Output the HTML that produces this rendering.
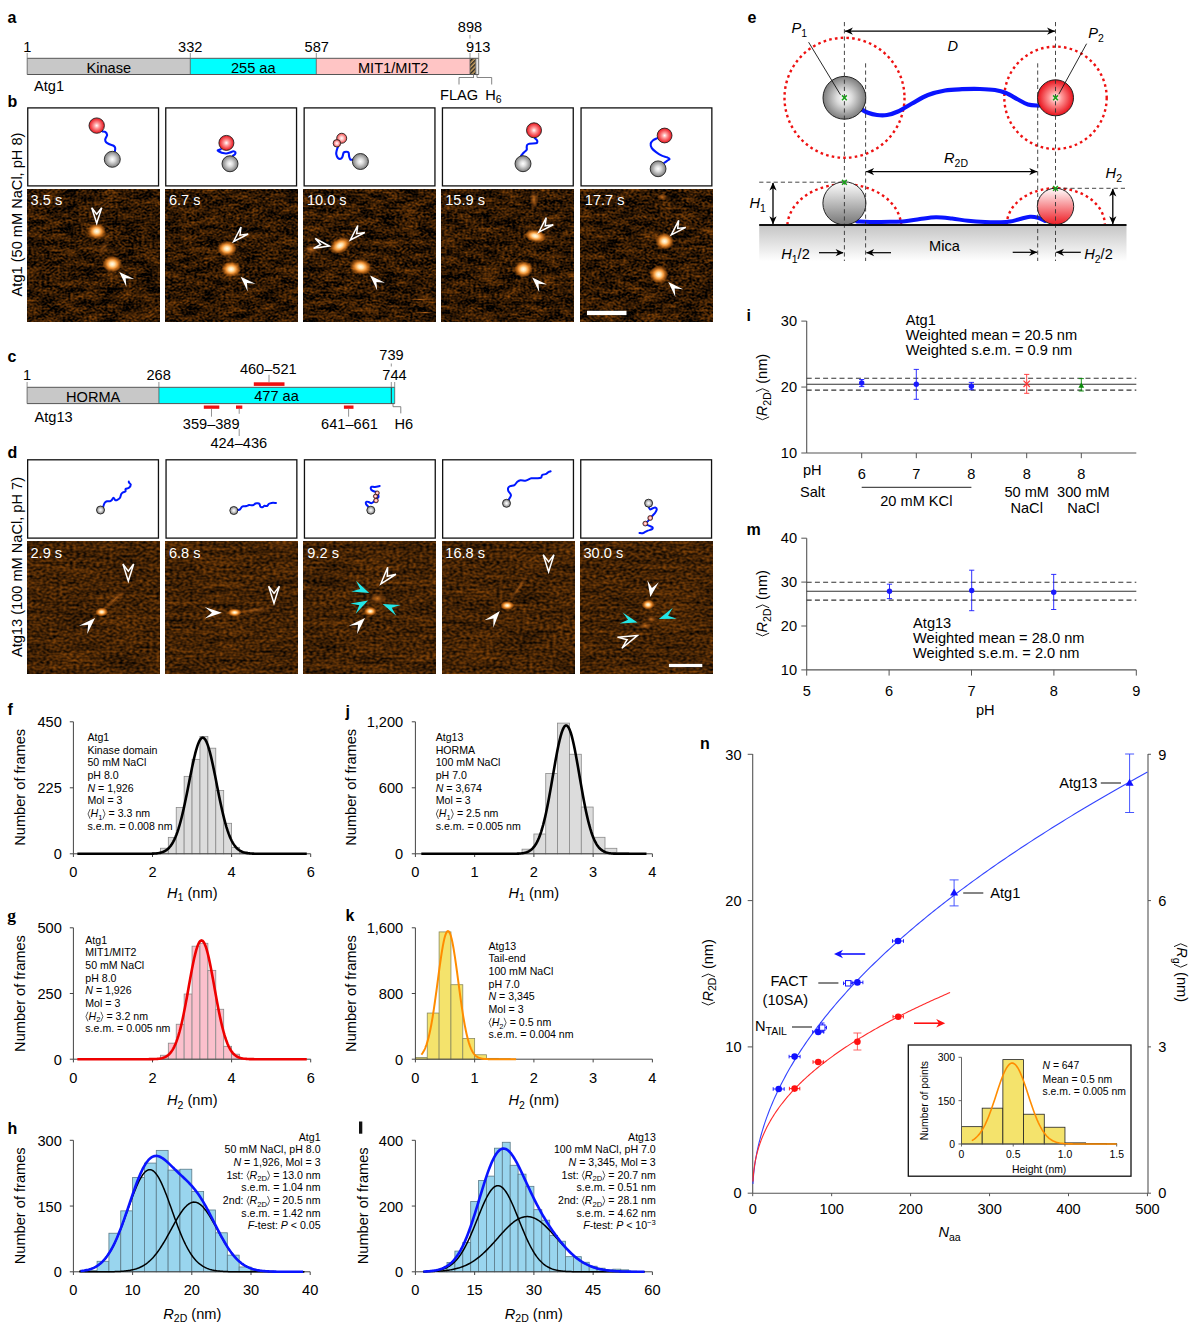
<!DOCTYPE html>
<html><head><meta charset="utf-8"><title>Figure</title>
<style>
html,body{margin:0;padding:0;background:#fff;}
svg{display:block;font-family:"Liberation Sans",sans-serif;}
svg text{white-space:pre;}
</style></head><body>
<svg xml:space="preserve" width="1200" height="1331" viewBox="0 0 1200 1331">
<rect width="1200" height="1331" fill="#fff"/>

<defs>
 <radialGradient id="gRed" cx="0.5" cy="0.5" r="0.5" fx="0.5" fy="0.5">
  <stop offset="0" stop-color="#ffffff"/><stop offset="0.35" stop-color="#ff9a9a"/><stop offset="1" stop-color="#e8101a"/>
 </radialGradient>
 <radialGradient id="gGrey" cx="0.5" cy="0.5" r="0.5" fx="0.5" fy="0.5">
  <stop offset="0" stop-color="#ffffff"/><stop offset="0.35" stop-color="#dddddd"/><stop offset="1" stop-color="#7c7c7c"/>
 </radialGradient>
 <radialGradient id="gPink" cx="0.5" cy="0.5" r="0.5">
  <stop offset="0" stop-color="#ffffff"/><stop offset="0.4" stop-color="#ffc0c0"/><stop offset="1" stop-color="#f04848"/>
 </radialGradient>
 <linearGradient id="lRed" x1="0" y1="0" x2="0" y2="1">
  <stop offset="0" stop-color="#ffffff"/><stop offset="1" stop-color="#ee1c24"/>
 </linearGradient>
 <linearGradient id="lGrey" x1="0" y1="0" x2="0" y2="1">
  <stop offset="0" stop-color="#ffffff"/><stop offset="1" stop-color="#777777"/>
 </linearGradient>
 <linearGradient id="mica" x1="0" y1="0" x2="0" y2="1">
  <stop offset="0" stop-color="#c4c4c4"/><stop offset="1" stop-color="#ffffff"/>
 </linearGradient>
 <pattern id="hatch" width="3" height="3" patternUnits="userSpaceOnUse" patternTransform="rotate(45)">
  <rect width="3" height="3" fill="#c8a060"/><rect width="1.4" height="3" fill="#222"/>
 </pattern>
 <radialGradient id="spot" cx="0.5" cy="0.5" r="0.5">
  <stop offset="0" stop-color="#fffaf0"/><stop offset="0.25" stop-color="#ffe0a8"/><stop offset="0.5" stop-color="#ffa040" stop-opacity="0.95"/><stop offset="0.78" stop-color="#e07818" stop-opacity="0.55"/><stop offset="1" stop-color="#c06010" stop-opacity="0"/>
 </radialGradient>
 <radialGradient id="faint" cx="0.5" cy="0.5" r="0.5">
  <stop offset="0" stop-color="#d87a20" stop-opacity="0.9"/><stop offset="1" stop-color="#a05010" stop-opacity="0"/>
 </radialGradient>
 <filter id="afmB0" x="0" y="0" width="1" height="1" color-interpolation-filters="sRGB">
  <feTurbulence type="fractalNoise" baseFrequency="0.38 0.5" numOctaves="1" seed="11" result="a"/>
  <feTurbulence type="fractalNoise" baseFrequency="0.05 0.15" numOctaves="2" seed="14" result="b"/>
  <feComposite in="a" in2="b" operator="arithmetic" k1="0" k2="0.6" k3="0.4" k4="0" result="n"/>
  <feColorMatrix in="n" type="matrix" values="1.3 0 0 0 -0.460  0.68 0 0 0 -0.243  0.07 0 0 0 -0.022  0 0 0 0 1"/>
 </filter>
 <filter id="afmB1" x="0" y="0" width="1" height="1" color-interpolation-filters="sRGB">
  <feTurbulence type="fractalNoise" baseFrequency="0.38 0.5" numOctaves="1" seed="18" result="a"/>
  <feTurbulence type="fractalNoise" baseFrequency="0.05 0.15" numOctaves="2" seed="21" result="b"/>
  <feComposite in="a" in2="b" operator="arithmetic" k1="0" k2="0.6" k3="0.4" k4="0" result="n"/>
  <feColorMatrix in="n" type="matrix" values="1.3 0 0 0 -0.460  0.68 0 0 0 -0.243  0.07 0 0 0 -0.022  0 0 0 0 1"/>
 </filter>
 <filter id="afmB2" x="0" y="0" width="1" height="1" color-interpolation-filters="sRGB">
  <feTurbulence type="fractalNoise" baseFrequency="0.38 0.5" numOctaves="1" seed="25" result="a"/>
  <feTurbulence type="fractalNoise" baseFrequency="0.05 0.15" numOctaves="2" seed="28" result="b"/>
  <feComposite in="a" in2="b" operator="arithmetic" k1="0" k2="0.6" k3="0.4" k4="0" result="n"/>
  <feColorMatrix in="n" type="matrix" values="1.3 0 0 0 -0.460  0.68 0 0 0 -0.243  0.07 0 0 0 -0.022  0 0 0 0 1"/>
 </filter>
 <filter id="afmB3" x="0" y="0" width="1" height="1" color-interpolation-filters="sRGB">
  <feTurbulence type="fractalNoise" baseFrequency="0.38 0.5" numOctaves="1" seed="32" result="a"/>
  <feTurbulence type="fractalNoise" baseFrequency="0.05 0.15" numOctaves="2" seed="35" result="b"/>
  <feComposite in="a" in2="b" operator="arithmetic" k1="0" k2="0.6" k3="0.4" k4="0" result="n"/>
  <feColorMatrix in="n" type="matrix" values="1.3 0 0 0 -0.460  0.68 0 0 0 -0.243  0.07 0 0 0 -0.022  0 0 0 0 1"/>
 </filter>
 <filter id="afmB4" x="0" y="0" width="1" height="1" color-interpolation-filters="sRGB">
  <feTurbulence type="fractalNoise" baseFrequency="0.38 0.5" numOctaves="1" seed="39" result="a"/>
  <feTurbulence type="fractalNoise" baseFrequency="0.05 0.15" numOctaves="2" seed="42" result="b"/>
  <feComposite in="a" in2="b" operator="arithmetic" k1="0" k2="0.6" k3="0.4" k4="0" result="n"/>
  <feColorMatrix in="n" type="matrix" values="1.3 0 0 0 -0.460  0.68 0 0 0 -0.243  0.07 0 0 0 -0.022  0 0 0 0 1"/>
 </filter>
 <filter id="afmD0" x="0" y="0" width="1" height="1" color-interpolation-filters="sRGB">
  <feTurbulence type="fractalNoise" baseFrequency="0.3 0.45" numOctaves="1" seed="51" result="a"/>
  <feTurbulence type="fractalNoise" baseFrequency="0.02 0.2" numOctaves="2" seed="54" result="b"/>
  <feComposite in="a" in2="b" operator="arithmetic" k1="0" k2="0.7" k3="0.3" k4="0" result="n"/>
  <feColorMatrix in="n" type="matrix" values="1.0 0 0 0 -0.235  0.52 0 0 0 -0.123  0.05 0 0 0 -0.007  0 0 0 0 1"/>
 </filter>
 <filter id="afmD1" x="0" y="0" width="1" height="1" color-interpolation-filters="sRGB">
  <feTurbulence type="fractalNoise" baseFrequency="0.3 0.45" numOctaves="1" seed="56" result="a"/>
  <feTurbulence type="fractalNoise" baseFrequency="0.02 0.2" numOctaves="2" seed="59" result="b"/>
  <feComposite in="a" in2="b" operator="arithmetic" k1="0" k2="0.7" k3="0.3" k4="0" result="n"/>
  <feColorMatrix in="n" type="matrix" values="1.0 0 0 0 -0.235  0.52 0 0 0 -0.123  0.05 0 0 0 -0.007  0 0 0 0 1"/>
 </filter>
 <filter id="afmD2" x="0" y="0" width="1" height="1" color-interpolation-filters="sRGB">
  <feTurbulence type="fractalNoise" baseFrequency="0.3 0.45" numOctaves="1" seed="61" result="a"/>
  <feTurbulence type="fractalNoise" baseFrequency="0.02 0.2" numOctaves="2" seed="64" result="b"/>
  <feComposite in="a" in2="b" operator="arithmetic" k1="0" k2="0.7" k3="0.3" k4="0" result="n"/>
  <feColorMatrix in="n" type="matrix" values="1.0 0 0 0 -0.235  0.52 0 0 0 -0.123  0.05 0 0 0 -0.007  0 0 0 0 1"/>
 </filter>
 <filter id="afmD3" x="0" y="0" width="1" height="1" color-interpolation-filters="sRGB">
  <feTurbulence type="fractalNoise" baseFrequency="0.3 0.45" numOctaves="1" seed="66" result="a"/>
  <feTurbulence type="fractalNoise" baseFrequency="0.02 0.2" numOctaves="2" seed="69" result="b"/>
  <feComposite in="a" in2="b" operator="arithmetic" k1="0" k2="0.7" k3="0.3" k4="0" result="n"/>
  <feColorMatrix in="n" type="matrix" values="1.0 0 0 0 -0.235  0.52 0 0 0 -0.123  0.05 0 0 0 -0.007  0 0 0 0 1"/>
 </filter>
 <filter id="afmD4" x="0" y="0" width="1" height="1" color-interpolation-filters="sRGB">
  <feTurbulence type="fractalNoise" baseFrequency="0.3 0.45" numOctaves="1" seed="71" result="a"/>
  <feTurbulence type="fractalNoise" baseFrequency="0.02 0.2" numOctaves="2" seed="74" result="b"/>
  <feComposite in="a" in2="b" operator="arithmetic" k1="0" k2="0.7" k3="0.3" k4="0" result="n"/>
  <feColorMatrix in="n" type="matrix" values="1.0 0 0 0 -0.235  0.52 0 0 0 -0.123  0.05 0 0 0 -0.007  0 0 0 0 1"/>
 </filter>
</defs>
<text x="7.5" y="22.5" font-size="16" font-weight="bold">a</text>
<rect x="27.20" y="58.30" width="163.10" height="16.20" fill="#c8c8c8" stroke="none" stroke-width="1" />
<rect x="190.30" y="58.30" width="126.00" height="16.20" fill="#00ffff" stroke="none" stroke-width="1" />
<rect x="316.30" y="58.30" width="153.70" height="16.20" fill="#ffc5c5" stroke="none" stroke-width="1" />
<rect x="470.00" y="58.30" width="5.80" height="16.20" fill="url(#hatch)" stroke="none" stroke-width="1" />
<rect x="475.80" y="58.30" width="2.90" height="16.20" fill="#e6e6e6" stroke="none" stroke-width="1" />
<line x1="27.20" y1="58.30" x2="478.70" y2="58.30" stroke="#555" stroke-width="1" />
<line x1="27.20" y1="74.50" x2="478.70" y2="74.50" stroke="#555" stroke-width="1" />
<line x1="27.20" y1="58.30" x2="27.20" y2="74.50" stroke="#555" stroke-width="0.8" />
<line x1="190.30" y1="58.30" x2="190.30" y2="74.50" stroke="#555" stroke-width="0.8" />
<line x1="316.30" y1="58.30" x2="316.30" y2="74.50" stroke="#555" stroke-width="0.8" />
<line x1="470.00" y1="58.30" x2="470.00" y2="74.50" stroke="#555" stroke-width="0.8" />
<line x1="475.80" y1="58.30" x2="475.80" y2="74.50" stroke="#555" stroke-width="0.8" />
<line x1="478.70" y1="58.30" x2="478.70" y2="74.50" stroke="#555" stroke-width="0.8" />
<line x1="27.20" y1="53.00" x2="27.20" y2="58.30" stroke="#777" stroke-width="0.8" />
<line x1="190.30" y1="53.00" x2="190.30" y2="58.30" stroke="#777" stroke-width="0.8" />
<line x1="316.30" y1="53.00" x2="316.30" y2="58.30" stroke="#777" stroke-width="0.8" />
<line x1="470.00" y1="53.00" x2="470.00" y2="58.30" stroke="#777" stroke-width="0.8" />
<line x1="478.70" y1="53.00" x2="478.70" y2="58.30" stroke="#777" stroke-width="0.8" />
<line x1="470.00" y1="35.00" x2="470.00" y2="38.50" stroke="#777" stroke-width="0.8" />
<text x="108.8" y="72.5" font-size="14.6" text-anchor="middle" >Kinase</text>
<text x="253.3" y="72.5" font-size="14.6" text-anchor="middle" >255 aa</text>
<text x="393.2" y="72.5" font-size="14.6" text-anchor="middle" >MIT1/MIT2</text>
<text x="27.2" y="51.7" font-size="14.6" text-anchor="middle" >1</text>
<text x="190.3" y="51.7" font-size="14.6" text-anchor="middle" >332</text>
<text x="316.8" y="51.7" font-size="14.6" text-anchor="middle" >587</text>
<text x="478.2" y="51.7" font-size="14.6" text-anchor="middle" >913</text>
<text x="470.0" y="31.7" font-size="14.6" text-anchor="middle" >898</text>
<text x="34.0" y="91.0" font-size="14.6" text-anchor="start" >Atg1</text>
<path d="M459,84.5 V77.5 H474 M473.5,77.5 V74.5" fill="none" stroke="#777" stroke-width="0.9" />
<path d="M477,74.5 V77.5 H491.7 V84.5" fill="none" stroke="#777" stroke-width="0.9" />
<text x="440.0" y="99.7" font-size="14.6" text-anchor="start" >FLAG</text>
<text x="485.3" y="99.7" font-size="14.6" text-anchor="start" >H<tspan font-size="10.5" dy="3.5">6</tspan></text>
<text x="7.5" y="107" font-size="16" font-weight="bold">b</text>
<text font-size="14.6" text-anchor="middle" transform="translate(21.6 214.5) rotate(-90)">Atg1 (50 mM NaCl, pH 8)</text>
<rect x="27.75" y="107.90" width="130.80" height="78.00" fill="#fff" stroke="#111" stroke-width="1.3" />
<rect x="27.10" y="189.80" width="132.10" height="131.40" filter="url(#afmB0)" fill="#000"/>
<rect x="165.75" y="107.90" width="130.80" height="78.00" fill="#fff" stroke="#111" stroke-width="1.3" />
<rect x="165.10" y="189.80" width="132.10" height="131.40" filter="url(#afmB1)" fill="#000"/>
<rect x="304.15" y="107.90" width="130.80" height="78.00" fill="#fff" stroke="#111" stroke-width="1.3" />
<rect x="303.50" y="189.80" width="132.10" height="131.40" filter="url(#afmB2)" fill="#000"/>
<rect x="442.45" y="107.90" width="130.80" height="78.00" fill="#fff" stroke="#111" stroke-width="1.3" />
<rect x="441.80" y="189.80" width="132.10" height="131.40" filter="url(#afmB3)" fill="#000"/>
<rect x="581.05" y="107.90" width="130.80" height="78.00" fill="#fff" stroke="#111" stroke-width="1.3" />
<rect x="580.40" y="189.80" width="132.10" height="131.40" filter="url(#afmB4)" fill="#000"/>
<path d="M102.40,131.50 C102.87,131.57 104.42,131.35 105.20,131.90 C105.98,132.45 106.95,133.90 107.10,134.80 C107.25,135.70 106.42,136.47 106.10,137.30 C105.78,138.13 105.20,138.97 105.20,139.80 C105.20,140.63 105.40,141.55 106.10,142.30 C106.80,143.05 108.10,143.68 109.40,144.30 C110.70,144.92 112.93,145.37 113.90,146.00 C114.87,146.63 115.05,147.13 115.20,148.10 C115.35,149.07 114.87,151.18 114.80,151.80" fill="none" stroke="#0018ff" stroke-width="2.1" stroke-linecap="round" stroke-linejoin="round"/>
<circle cx="96.70" cy="125.60" r="7.70" fill="url(#gRed)" stroke="#222" stroke-width="0.9"/>
<circle cx="112.30" cy="159.30" r="8.00" fill="url(#gGrey)" stroke="#222" stroke-width="0.9"/>
<path d="M220.80,149.30 C220.27,149.50 217.77,150.08 217.60,150.50 C217.43,150.92 218.92,151.37 219.80,151.80 C220.68,152.23 221.82,152.82 222.90,153.10 C223.98,153.38 225.12,153.60 226.30,153.50 C227.48,153.40 228.83,152.87 230.00,152.50 C231.17,152.13 232.40,151.33 233.30,151.30 C234.20,151.27 235.12,151.82 235.40,152.30 C235.68,152.78 235.42,153.62 235.00,154.20 C234.58,154.78 233.25,155.53 232.90,155.80" fill="none" stroke="#0018ff" stroke-width="2.1" stroke-linecap="round" stroke-linejoin="round"/>
<circle cx="226.40" cy="142.90" r="7.50" fill="url(#gRed)" stroke="#222" stroke-width="0.9"/>
<circle cx="230.00" cy="163.75" r="8.00" fill="url(#gGrey)" stroke="#222" stroke-width="0.9"/>
<path d="M337.90,147.10 C337.70,147.65 336.97,149.22 336.70,150.40 C336.43,151.58 336.05,152.95 336.25,154.20 C336.45,155.45 337.14,157.14 337.90,157.90 C338.66,158.66 340.03,158.95 340.80,158.75 C341.57,158.55 342.01,157.74 342.50,156.70 C342.99,155.66 343.12,153.33 343.75,152.50 C344.38,151.67 345.46,151.70 346.25,151.70 C347.04,151.70 348.01,151.67 348.50,152.50 C348.99,153.33 348.88,155.52 349.20,156.70 C349.52,157.88 349.80,159.12 350.40,159.60 C351.00,160.08 352.40,159.60 352.80,159.60" fill="none" stroke="#0018ff" stroke-width="2.1" stroke-linecap="round" stroke-linejoin="round"/>
<circle cx="341.70" cy="138.25" r="5.00" fill="url(#gPink)" stroke="#222" stroke-width="0.9"/>
<circle cx="336.90" cy="143.30" r="3.75" fill="url(#gPink)" stroke="#222" stroke-width="0.9"/>
<circle cx="360.40" cy="161.50" r="8.00" fill="url(#gGrey)" stroke="#222" stroke-width="0.9"/>
<path d="M534.80,138.10 C535.17,138.47 536.60,139.58 537.00,140.30 C537.40,141.02 537.42,141.90 537.20,142.40 C536.98,142.90 537.02,143.08 535.70,143.30 C534.38,143.52 530.73,143.42 529.30,143.70 C527.87,143.98 527.53,144.35 527.10,145.00 C526.67,145.65 526.77,146.82 526.70,147.60 C526.63,148.38 527.13,148.92 526.70,149.70 C526.27,150.48 525.03,151.30 524.10,152.30 C523.17,153.30 521.60,155.13 521.10,155.70" fill="none" stroke="#0018ff" stroke-width="2.1" stroke-linecap="round" stroke-linejoin="round"/>
<circle cx="534.00" cy="130.30" r="7.50" fill="url(#gRed)" stroke="#222" stroke-width="0.9"/>
<circle cx="523.00" cy="163.70" r="8.00" fill="url(#gGrey)" stroke="#222" stroke-width="0.9"/>
<path d="M657.40,138.10 C656.68,138.47 654.22,139.35 653.10,140.30 C651.98,141.25 650.92,142.50 650.70,143.80 C650.48,145.10 650.90,146.72 651.80,148.10 C652.70,149.48 654.43,150.85 656.10,152.10 C657.77,153.35 659.98,154.73 661.80,155.60 C663.62,156.47 665.70,156.73 667.00,157.30 C668.30,157.87 669.60,158.42 669.60,159.00 C669.60,159.58 667.93,160.13 667.00,160.80 C666.07,161.47 664.50,162.63 664.00,163.00" fill="none" stroke="#0018ff" stroke-width="2.1" stroke-linecap="round" stroke-linejoin="round"/>
<circle cx="664.60" cy="135.50" r="7.40" fill="url(#gRed)" stroke="#222" stroke-width="0.9"/>
<circle cx="658.10" cy="168.80" r="7.90" fill="url(#gGrey)" stroke="#222" stroke-width="0.9"/>
<ellipse cx="104.00" cy="247.00" rx="4" ry="10" fill="url(#faint)" opacity="0.5" transform="rotate(25 104.00 247.00)"/>
<ellipse cx="96.70" cy="231.30" rx="9.5" ry="8" fill="url(#spot)" opacity="1" transform="rotate(0 96.70 231.30)"/>
<ellipse cx="112.30" cy="264.10" rx="10" ry="8.5" fill="url(#spot)" opacity="1" transform="rotate(0 112.30 264.10)"/>
<path d="M96.70,223.20 L101.70,207.70 L96.70,214.21 L91.70,207.70 Z" fill="none" stroke="#ffffff" stroke-width="1.5" stroke-linejoin="miter"/>
<path d="M119.30,272.00 L126.37,286.85 L125.66,278.36 L134.15,279.07 Z" fill="#ffffff" stroke="none" stroke-width="0" />
<text x="30.6" y="205.4" font-size="14.6" fill="#fff">3.5 s</text>
<ellipse cx="229.00" cy="259.00" rx="3.5" ry="8" fill="url(#faint)" opacity="0.3" transform="rotate(10 229.00 259.00)"/>
<ellipse cx="227.00" cy="248.60" rx="10" ry="8" fill="url(#spot)" opacity="1" transform="rotate(0 227.00 248.60)"/>
<ellipse cx="231.20" cy="269.20" rx="10" ry="8" fill="url(#spot)" opacity="1" transform="rotate(0 231.20 269.20)"/>
<path d="M233.60,241.50 L248.10,234.08 L239.96,235.14 L241.02,227.00 Z" fill="none" stroke="#ffffff" stroke-width="1.5" stroke-linejoin="miter"/>
<path d="M240.60,276.70 L247.67,291.55 L246.96,283.06 L255.45,283.77 Z" fill="#ffffff" stroke="none" stroke-width="0" />
<text x="168.9" y="205.4" font-size="14.6" fill="#fff">6.7 s</text>
<ellipse cx="311.00" cy="249.50" rx="7.5" ry="5" fill="url(#faint)" opacity="1.0" transform="rotate(0 311.00 249.50)"/>
<ellipse cx="340.20" cy="245.50" rx="11.5" ry="7.5" fill="url(#spot)" opacity="1" transform="rotate(-30 340.20 245.50)"/>
<ellipse cx="360.70" cy="266.80" rx="11" ry="8" fill="url(#spot)" opacity="1" transform="rotate(10 360.70 266.80)"/>
<ellipse cx="420.00" cy="299.50" rx="14" ry="1.3" fill="url(#faint)" opacity="0.8" transform="rotate(0 420.00 299.50)"/>
<ellipse cx="425.00" cy="312.50" rx="10" ry="1.3" fill="url(#faint)" opacity="0.9" transform="rotate(0 425.00 312.50)"/>
<ellipse cx="392.00" cy="306.00" rx="8" ry="1.2" fill="url(#faint)" opacity="0.6" transform="rotate(0 392.00 306.00)"/>
<path d="M350.30,240.00 L364.80,232.58 L356.66,233.64 L357.72,225.50 Z" fill="none" stroke="#ffffff" stroke-width="1.5" stroke-linejoin="miter"/>
<path d="M329.20,246.00 L315.30,238.47 L320.63,244.49 L313.56,248.32 Z" fill="none" stroke="#ffffff" stroke-width="1.5" stroke-linejoin="miter"/>
<path d="M370.10,275.60 L377.17,290.45 L376.46,281.96 L384.95,282.67 Z" fill="#ffffff" stroke="none" stroke-width="0" />
<text x="306.9" y="205.4" font-size="14.6" fill="#fff">10.0 s</text>
<ellipse cx="534.00" cy="199.50" rx="4.5" ry="10" fill="url(#faint)" opacity="1.0" transform="rotate(0 534.00 199.50)"/>
<ellipse cx="535.20" cy="236.00" rx="11" ry="6.5" fill="url(#spot)" opacity="1" transform="rotate(12 535.20 236.00)"/>
<ellipse cx="523.50" cy="269.20" rx="9.5" ry="8.5" fill="url(#spot)" opacity="1" transform="rotate(0 523.50 269.20)"/>
<path d="M538.80,232.20 L553.30,224.78 L545.16,225.84 L546.22,217.70 Z" fill="none" stroke="#ffffff" stroke-width="1.5" stroke-linejoin="miter"/>
<path d="M532.20,277.40 L539.27,292.25 L538.56,283.76 L547.05,284.47 Z" fill="#ffffff" stroke="none" stroke-width="0" />
<text x="445.2" y="205.4" font-size="14.6" fill="#fff">15.9 s</text>
<ellipse cx="662.30" cy="197.00" rx="5" ry="3.6" fill="url(#faint)" opacity="1.0" transform="rotate(0 662.30 197.00)"/>
<ellipse cx="664.60" cy="241.20" rx="9.5" ry="8.5" fill="url(#spot)" opacity="1" transform="rotate(0 664.60 241.20)"/>
<ellipse cx="658.80" cy="274.50" rx="9.5" ry="9" fill="url(#spot)" opacity="1" transform="rotate(0 658.80 274.50)"/>
<path d="M671.30,234.80 L685.80,227.38 L677.66,228.44 L678.72,220.30 Z" fill="none" stroke="#ffffff" stroke-width="1.5" stroke-linejoin="miter"/>
<path d="M668.30,282.10 L675.37,296.95 L674.66,288.46 L683.15,289.17 Z" fill="#ffffff" stroke="none" stroke-width="0" />
<text x="584.8" y="205.4" font-size="14.6" fill="#fff">17.7 s</text>
<rect x="587.00" y="310.80" width="39.50" height="4.30" fill="#fff" stroke="none" stroke-width="1" />
<text x="7.5" y="361.5" font-size="16" font-weight="bold">c</text>
<rect x="27.10" y="387.30" width="131.80" height="16.30" fill="#c8c8c8" stroke="none" stroke-width="1" />
<rect x="158.90" y="387.30" width="235.80" height="16.30" fill="#00ffff" stroke="none" stroke-width="1" />
<line x1="27.10" y1="387.30" x2="394.70" y2="387.30" stroke="#555" stroke-width="1" />
<line x1="27.10" y1="403.60" x2="394.70" y2="403.60" stroke="#555" stroke-width="1" />
<line x1="27.10" y1="387.30" x2="27.10" y2="403.60" stroke="#555" stroke-width="0.8" />
<line x1="158.90" y1="387.30" x2="158.90" y2="403.60" stroke="#555" stroke-width="0.8" />
<line x1="394.70" y1="387.30" x2="394.70" y2="403.60" stroke="#555" stroke-width="0.8" />
<line x1="391.30" y1="387.30" x2="391.30" y2="403.60" stroke="#333" stroke-width="1" />
<line x1="27.10" y1="382.00" x2="27.10" y2="387.30" stroke="#777" stroke-width="0.8" />
<line x1="158.90" y1="382.00" x2="158.90" y2="387.30" stroke="#777" stroke-width="0.8" />
<line x1="391.30" y1="382.00" x2="391.30" y2="387.30" stroke="#777" stroke-width="0.8" />
<line x1="394.70" y1="382.00" x2="394.70" y2="387.30" stroke="#777" stroke-width="0.8" />
<line x1="391.30" y1="363.50" x2="391.30" y2="366.50" stroke="#777" stroke-width="0.8" />
<text x="93.2" y="401.6" font-size="14.6" text-anchor="middle" >HORMA</text>
<text x="276.5" y="401.2" font-size="14.6" text-anchor="middle" >477 aa</text>
<text x="27.1" y="380.3" font-size="14.6" text-anchor="middle" >1</text>
<text x="158.6" y="380.3" font-size="14.6" text-anchor="middle" >268</text>
<text x="268.3" y="374.1" font-size="14.6" text-anchor="middle" >460–521</text>
<text x="391.5" y="360.1" font-size="14.6" text-anchor="middle" >739</text>
<text x="394.5" y="380.3" font-size="14.6" text-anchor="middle" >744</text>
<text x="34.5" y="421.9" font-size="14.6" text-anchor="start" >Atg13</text>
<rect x="253.80" y="382.30" width="30.70" height="3.60" fill="#ee1111" stroke="none" stroke-width="1" />
<line x1="269.00" y1="374.80" x2="269.00" y2="382.30" stroke="#888" stroke-width="0.9" />
<rect x="203.80" y="405.50" width="15.50" height="3.30" fill="#ee1111" stroke="none" stroke-width="1" />
<rect x="236.00" y="405.50" width="6.30" height="3.30" fill="#ee1111" stroke="none" stroke-width="1" />
<rect x="343.90" y="405.50" width="9.60" height="3.30" fill="#ee1111" stroke="none" stroke-width="1" />
<line x1="211.50" y1="408.80" x2="211.50" y2="416.70" stroke="#888" stroke-width="0.9" />
<line x1="239.20" y1="408.80" x2="239.20" y2="413.80" stroke="#888" stroke-width="0.9" />
<line x1="239.20" y1="428.80" x2="239.20" y2="436.00" stroke="#888" stroke-width="0.9" />
<line x1="348.60" y1="408.80" x2="348.60" y2="416.70" stroke="#888" stroke-width="0.9" />
<path d="M393,403.6 V406.7 H400.8 V413.4" fill="none" stroke="#777" stroke-width="0.9" />
<text x="211.2" y="428.6" font-size="14.6" text-anchor="middle" >359–389</text>
<text x="238.8" y="448.3" font-size="14.6" text-anchor="middle" >424–436</text>
<text x="349.5" y="428.6" font-size="14.6" text-anchor="middle" >641–661</text>
<text x="403.8" y="428.6" font-size="14.6" text-anchor="middle" >H6</text>
<text x="7.5" y="457.5" font-size="16" font-weight="bold">d</text>
<text font-size="14.6" text-anchor="middle" transform="translate(21.6 567) rotate(-90)">Atg13 (100 mM NaCl, pH 7)</text>
<rect x="27.65" y="459.80" width="130.80" height="78.30" fill="#fff" stroke="#111" stroke-width="1.3" />
<rect x="27.00" y="541.90" width="132.10" height="131.30" filter="url(#afmD0)" fill="#000"/>
<rect x="166.05" y="459.80" width="130.80" height="78.30" fill="#fff" stroke="#111" stroke-width="1.3" />
<rect x="165.40" y="541.90" width="132.10" height="131.30" filter="url(#afmD1)" fill="#000"/>
<rect x="304.45" y="459.80" width="130.80" height="78.30" fill="#fff" stroke="#111" stroke-width="1.3" />
<rect x="303.80" y="541.90" width="132.10" height="131.30" filter="url(#afmD2)" fill="#000"/>
<rect x="442.65" y="459.80" width="130.80" height="78.30" fill="#fff" stroke="#111" stroke-width="1.3" />
<rect x="442.00" y="541.90" width="132.10" height="131.30" filter="url(#afmD3)" fill="#000"/>
<rect x="580.75" y="459.80" width="130.80" height="78.30" fill="#fff" stroke="#111" stroke-width="1.3" />
<rect x="580.10" y="541.90" width="132.10" height="131.30" filter="url(#afmD4)" fill="#000"/>
<path d="M103.20,506.80 C103.43,506.17 103.97,503.92 104.60,503.00 C105.23,502.08 106.10,501.58 107.00,501.30 C107.90,501.02 109.23,501.47 110.00,501.30 C110.77,501.13 111.02,500.88 111.60,500.30 C112.18,499.72 112.85,497.80 113.50,497.80 C114.15,497.80 114.75,500.02 115.50,500.30 C116.25,500.58 117.25,499.92 118.00,499.50 C118.75,499.08 119.45,498.72 120.00,497.80 C120.55,496.88 120.80,494.92 121.30,494.00 C121.80,493.08 122.30,492.73 123.00,492.30 C123.70,491.87 125.07,491.95 125.50,491.40 C125.93,490.85 125.02,489.60 125.60,489.00 C126.18,488.40 128.13,488.53 129.00,487.80 C129.87,487.07 130.80,485.47 130.80,484.60 C130.80,483.73 129.33,483.10 129.00,482.60 C128.67,482.10 128.83,481.77 128.80,481.60" fill="none" stroke="#0018ff" stroke-width="2.0" stroke-linecap="round" stroke-linejoin="round"/>
<circle cx="100.50" cy="510.00" r="4.00" fill="url(#gGrey)" stroke="#222" stroke-width="0.9"/>
<path d="M237.60,510.20 C238.00,510.07 239.27,509.97 240.00,509.40 C240.73,508.83 241.33,507.32 242.00,506.80 C242.67,506.28 243.25,506.43 244.00,506.30 C244.75,506.17 245.67,506.22 246.50,506.00 C247.33,505.78 248.17,505.12 249.00,505.00 C249.83,504.88 250.75,505.30 251.50,505.30 C252.25,505.30 252.83,505.30 253.50,505.00 C254.17,504.70 254.83,503.78 255.50,503.50 C256.17,503.22 256.83,503.22 257.50,503.30 C258.17,503.38 259.00,503.42 259.50,504.00 C260.00,504.58 259.92,506.30 260.50,506.80 C261.08,507.30 262.33,507.17 263.00,507.00 C263.67,506.83 263.83,505.97 264.50,505.80 C265.17,505.63 266.25,506.33 267.00,506.00 C267.75,505.67 268.25,504.32 269.00,503.80 C269.75,503.28 270.33,503.05 271.50,502.90 C272.67,502.75 275.25,502.90 276.00,502.90" fill="none" stroke="#0018ff" stroke-width="2.0" stroke-linecap="round" stroke-linejoin="round"/>
<circle cx="233.80" cy="510.50" r="4.00" fill="url(#gGrey)" stroke="#222" stroke-width="0.9"/>
<path d="M368.40,506.70 C368.00,506.25 366.35,504.82 366.00,504.00 C365.65,503.18 365.85,502.13 366.30,501.80 C366.75,501.47 367.87,501.77 368.70,502.00 C369.53,502.23 370.45,503.27 371.30,503.20 C372.15,503.13 372.93,502.30 373.80,501.60 C374.67,500.90 375.70,499.82 376.50,499.00 C377.30,498.18 378.43,497.62 378.60,496.70 C378.77,495.78 377.93,494.28 377.50,493.50 C377.07,492.72 376.87,492.47 376.00,492.00 C375.13,491.53 373.18,491.30 372.30,490.70 C371.42,490.10 370.80,489.07 370.70,488.40 C370.60,487.73 370.98,486.93 371.70,486.70 C372.42,486.47 373.67,487.12 375.00,487.00 C376.33,486.88 378.92,486.17 379.70,486.00" fill="none" stroke="#0018ff" stroke-width="2.0" stroke-linecap="round" stroke-linejoin="round"/>
<circle cx="377.20" cy="493.00" r="2.10" fill="url(#gPink)" stroke="#222" stroke-width="0.8"/>
<circle cx="375.50" cy="496.30" r="2.10" fill="url(#gPink)" stroke="#222" stroke-width="0.8"/>
<circle cx="376.00" cy="500.50" r="2.30" fill="url(#gPink)" stroke="#222" stroke-width="0.8"/>
<circle cx="370.80" cy="510.20" r="4.00" fill="url(#gGrey)" stroke="#222" stroke-width="0.9"/>
<path d="M508.60,499.80 C509.00,499.05 511.03,496.75 511.00,495.30 C510.97,493.85 508.87,492.33 508.40,491.10 C507.93,489.87 507.88,488.72 508.20,487.90 C508.52,487.08 509.25,486.67 510.30,486.20 C511.35,485.73 513.33,485.83 514.50,485.10 C515.67,484.37 516.30,482.62 517.30,481.80 C518.30,480.98 519.03,480.40 520.50,480.20 C521.97,480.00 524.30,480.92 526.10,480.60 C527.90,480.28 529.43,478.68 531.30,478.30 C533.17,477.92 535.67,478.42 537.30,478.30 C538.93,478.18 540.28,478.15 541.10,477.60 C541.92,477.05 541.35,475.62 542.20,475.00 C543.05,474.38 545.15,474.40 546.20,473.90 C547.25,473.40 547.77,472.43 548.50,472.00 C549.23,471.57 550.25,471.42 550.60,471.30" fill="none" stroke="#0018ff" stroke-width="2.0" stroke-linecap="round" stroke-linejoin="round"/>
<circle cx="506.50" cy="503.30" r="4.00" fill="url(#gGrey)" stroke="#222" stroke-width="0.9"/>
<path d="M648.90,507.40 C649.12,507.75 649.57,509.35 650.20,509.50 C650.83,509.65 651.87,508.62 652.70,508.30 C653.53,507.98 654.52,507.45 655.20,507.60 C655.88,507.75 656.80,508.35 656.80,509.20 C656.80,510.05 655.88,511.65 655.20,512.70 C654.52,513.75 653.53,514.62 652.70,515.50 C651.87,516.38 650.98,517.05 650.20,518.00 C649.42,518.95 648.82,520.27 648.00,521.20 C647.18,522.13 645.15,522.87 645.30,523.60 C645.45,524.33 647.72,525.00 648.90,525.60 C650.08,526.20 651.87,526.62 652.40,527.20 C652.93,527.78 652.88,528.52 652.10,529.10 C651.32,529.68 648.92,530.18 647.70,530.70 C646.48,531.22 645.65,531.78 644.80,532.20 C643.95,532.62 643.48,533.08 642.60,533.20 C641.72,533.32 640.02,532.95 639.50,532.90" fill="none" stroke="#0018ff" stroke-width="2.0" stroke-linecap="round" stroke-linejoin="round"/>
<circle cx="650.20" cy="518.00" r="2.40" fill="url(#gPink)" stroke="#222" stroke-width="0.8"/>
<circle cx="645.30" cy="523.60" r="2.40" fill="url(#gPink)" stroke="#222" stroke-width="0.8"/>
<circle cx="648.60" cy="503.20" r="4.00" fill="url(#gGrey)" stroke="#222" stroke-width="0.9"/>
<ellipse cx="115.00" cy="599.00" rx="17" ry="2.8" fill="url(#faint)" opacity="0.7" transform="rotate(-42 115.00 599.00)"/>
<ellipse cx="101.70" cy="612.00" rx="6.5" ry="4.5" fill="url(#spot)" opacity="1" transform="rotate(0 101.70 612.00)"/>
<path d="M128.30,581.00 L133.70,564.00 L128.30,571.14 L122.90,564.00 Z" fill="none" stroke="#ffffff" stroke-width="1.5" stroke-linejoin="miter"/>
<path d="M95.10,617.90 L78.98,625.82 L88.13,624.87 L87.18,634.02 Z" fill="#ffffff" stroke="none" stroke-width="0" />
<text x="30.5" y="557.7" font-size="14.6" fill="#fff">2.9 s</text>
<ellipse cx="255.00" cy="610.00" rx="21" ry="2.4" fill="url(#faint)" opacity="0.7" transform="rotate(-6 255.00 610.00)"/>
<ellipse cx="234.70" cy="612.50" rx="7" ry="4" fill="url(#spot)" opacity="1" transform="rotate(0 234.70 612.50)"/>
<path d="M274.00,603.20 L279.40,586.20 L274.00,593.34 L268.60,586.20 Z" fill="none" stroke="#ffffff" stroke-width="1.5" stroke-linejoin="miter"/>
<path d="M221.80,612.70 L204.80,606.90 L211.94,612.70 L204.80,618.50 Z" fill="#ffffff" stroke="none" stroke-width="0" />
<text x="168.9" y="557.7" font-size="14.6" fill="#fff">6.8 s</text>
<ellipse cx="377.30" cy="598.50" rx="9" ry="5.5" fill="url(#faint)" opacity="1.0" transform="rotate(0 377.30 598.50)"/>
<ellipse cx="377.00" cy="591.00" rx="5" ry="2" fill="url(#faint)" opacity="0.5" transform="rotate(0 377.00 591.00)"/>
<ellipse cx="370.30" cy="611.30" rx="6.5" ry="4.5" fill="url(#spot)" opacity="1" transform="rotate(0 370.30 611.30)"/>
<path d="M380.90,583.80 L395.96,574.25 L387.24,576.25 L387.69,567.31 Z" fill="none" stroke="#ffffff" stroke-width="1.5" stroke-linejoin="miter"/>
<path d="M365.00,617.90 L348.88,625.82 L358.03,624.87 L357.08,634.02 Z" fill="#ffffff" stroke="none" stroke-width="0" />
<path d="M369.20,593.00 L356.03,580.79 L360.19,588.99 L351.31,591.38 Z" fill="#22e6e6" stroke="none" stroke-width="0" />
<path d="M368.00,600.60 L350.27,603.46 L359.29,605.23 L355.71,613.70 Z" fill="#22e6e6" stroke="none" stroke-width="0" />
<path d="M382.60,604.00 L396.19,615.75 L391.74,607.69 L400.53,604.99 Z" fill="#22e6e6" stroke="none" stroke-width="0" />
<text x="307.3" y="557.7" font-size="14.6" fill="#fff">9.2 s</text>
<ellipse cx="518.00" cy="589.00" rx="19" ry="2.6" fill="url(#faint)" opacity="0.65" transform="rotate(-55 518.00 589.00)"/>
<ellipse cx="507.30" cy="605.50" rx="7" ry="4.5" fill="url(#spot)" opacity="1" transform="rotate(0 507.30 605.50)"/>
<path d="M548.60,571.70 L554.00,554.70 L548.60,561.84 L543.20,554.70 Z" fill="none" stroke="#ffffff" stroke-width="1.5" stroke-linejoin="miter"/>
<path d="M499.80,610.90 L484.43,620.19 L493.46,618.45 L493.32,627.65 Z" fill="#ffffff" stroke="none" stroke-width="0" />
<text x="445.3" y="557.7" font-size="14.6" fill="#fff">16.8 s</text>
<ellipse cx="645.30" cy="625.80" rx="7" ry="3.2" fill="url(#faint)" opacity="1.0" transform="rotate(0 645.30 625.80)"/>
<ellipse cx="651.20" cy="619.00" rx="6" ry="3.0" fill="url(#faint)" opacity="1.0" transform="rotate(0 651.20 619.00)"/>
<ellipse cx="648.10" cy="604.70" rx="6.5" ry="5" fill="url(#spot)" opacity="1" transform="rotate(0 648.10 604.70)"/>
<path d="M650.30,597.10 L658.79,582.35 L651.91,587.96 L647.37,580.34 Z" fill="#ffffff" stroke="none" stroke-width="0" />
<path d="M637.60,622.40 L622.68,612.40 L628.08,619.85 L619.68,623.60 Z" fill="#22e6e6" stroke="none" stroke-width="0" />
<path d="M658.80,619.00 L676.76,618.64 L668.07,615.63 L672.79,607.74 Z" fill="#22e6e6" stroke="none" stroke-width="0" />
<path d="M637.30,635.60 L617.44,637.15 L627.08,639.73 L621.93,648.28 Z" fill="none" stroke="#ffffff" stroke-width="1.5" stroke-linejoin="miter"/>
<text x="583.5" y="558.2" font-size="14.6" fill="#fff">30.0 s</text>
<rect x="668.90" y="663.90" width="33.40" height="3.20" fill="#fff" stroke="none" stroke-width="1" />
<text x="747.5" y="22.5" font-size="16" font-weight="bold">e</text>
<rect x="759.20" y="224.70" width="367.30" height="36.50" fill="url(#mica)" stroke="none" stroke-width="1" />
<circle cx="844.5" cy="97.8" r="60" fill="none" stroke="#ee1111" stroke-width="2.4" stroke-dasharray="2.6,3.2"/>
<circle cx="1055.5" cy="97.8" r="51.2" fill="none" stroke="#ee1111" stroke-width="2.4" stroke-dasharray="2.6,3.2"/>
<path d="M787.4,224.7 A57,43 0 0 1 901.2,224.7" fill="none" stroke="#ee1111" stroke-width="2.4" stroke-dasharray="2.6,3.2"/>
<path d="M1006.8,224.7 A49,36.5 0 0 1 1104.8,224.7" fill="none" stroke="#ee1111" stroke-width="2.4" stroke-dasharray="2.6,3.2"/>
<path d="M860.00,108.50 C861.33,109.22 865.17,111.72 868.00,112.80 C870.83,113.88 873.83,114.63 877.00,115.00 C880.17,115.37 883.50,115.58 887.00,115.00 C890.50,114.42 893.83,113.42 898.00,111.50 C902.17,109.58 907.00,106.25 912.00,103.50 C917.00,100.75 922.50,97.17 928.00,95.00 C933.50,92.83 939.33,91.47 945.00,90.50 C950.67,89.53 956.17,89.45 962.00,89.20 C967.83,88.95 974.50,88.87 980.00,89.00 C985.50,89.13 990.67,89.33 995.00,90.00 C999.33,90.67 1002.17,91.42 1006.00,93.00 C1009.83,94.58 1014.33,97.58 1018.00,99.50 C1021.67,101.42 1024.58,103.48 1028.00,104.50 C1031.42,105.52 1036.75,105.42 1038.50,105.60" fill="none" stroke="#0a14ff" stroke-width="4.2" stroke-linecap="round"/>
<path d="M857.00,221.50 C859.17,221.58 864.50,221.95 870.00,222.00 C875.50,222.05 884.17,221.93 890.00,221.80 C895.83,221.67 900.00,221.67 905.00,221.20 C910.00,220.73 914.83,219.67 920.00,219.00 C925.17,218.33 930.67,217.28 936.00,217.20 C941.33,217.12 946.67,217.90 952.00,218.50 C957.33,219.10 962.50,220.22 968.00,220.80 C973.50,221.38 979.67,221.77 985.00,222.00 C990.33,222.23 995.83,222.27 1000.00,222.20 C1004.17,222.13 1006.67,222.13 1010.00,221.60 C1013.33,221.07 1016.67,219.80 1020.00,219.00 C1023.33,218.20 1027.00,217.00 1030.00,216.80 C1033.00,216.60 1035.50,217.10 1038.00,217.80 C1040.50,218.50 1043.83,220.47 1045.00,221.00" fill="none" stroke="#0a14ff" stroke-width="4.0" stroke-linecap="round"/>
<circle cx="844.4" cy="97.8" r="21.4" fill="url(#gGrey)" stroke="#222" stroke-width="1"/>
<circle cx="1055.5" cy="97.8" r="18" fill="url(#gRed)" stroke="#222" stroke-width="1"/>
<circle cx="844.4" cy="203.3" r="21.5" fill="url(#lGrey)" stroke="#222" stroke-width="1"/>
<circle cx="1055.5" cy="206.4" r="18.2" fill="url(#lRed)" stroke="#222" stroke-width="1"/>
<line x1="844.40" y1="22.00" x2="844.40" y2="261.00" stroke="#333" stroke-width="0.9" stroke-dasharray="4.2,3"/>
<line x1="1055.50" y1="22.00" x2="1055.50" y2="261.00" stroke="#333" stroke-width="0.9" stroke-dasharray="4.2,3"/>
<line x1="865.60" y1="63.30" x2="865.60" y2="261.00" stroke="#333" stroke-width="0.9" stroke-dasharray="4.2,3"/>
<line x1="1037.70" y1="63.30" x2="1037.70" y2="261.00" stroke="#333" stroke-width="0.9" stroke-dasharray="4.2,3"/>
<line x1="759.20" y1="182.20" x2="844.00" y2="182.20" stroke="#333" stroke-width="0.9" stroke-dasharray="4.2,3"/>
<line x1="1056.00" y1="188.30" x2="1126.80" y2="188.30" stroke="#333" stroke-width="0.9" stroke-dasharray="4.2,3"/>
<line x1="759.20" y1="224.90" x2="1126.50" y2="224.90" stroke="#111" stroke-width="2" />
<line x1="842.00" y1="95.40" x2="846.80" y2="100.20" stroke="#18a018" stroke-width="1.5" />
<line x1="842.00" y1="100.20" x2="846.80" y2="95.40" stroke="#18a018" stroke-width="1.5" />
<line x1="1053.10" y1="95.40" x2="1057.90" y2="100.20" stroke="#18a018" stroke-width="1.5" />
<line x1="1053.10" y1="100.20" x2="1057.90" y2="95.40" stroke="#18a018" stroke-width="1.5" />
<line x1="842.00" y1="179.90" x2="846.80" y2="184.70" stroke="#18a018" stroke-width="1.5" />
<line x1="842.00" y1="184.70" x2="846.80" y2="179.90" stroke="#18a018" stroke-width="1.5" />
<line x1="1053.10" y1="186.00" x2="1057.90" y2="190.80" stroke="#18a018" stroke-width="1.5" />
<line x1="1053.10" y1="190.80" x2="1057.90" y2="186.00" stroke="#18a018" stroke-width="1.5" />
<line x1="808.60" y1="42.20" x2="840.50" y2="94.80" stroke="#111" stroke-width="0.9" />
<line x1="1086.60" y1="43.70" x2="1058.80" y2="94.20" stroke="#111" stroke-width="0.9" />
<line x1="844.90" y1="31.20" x2="1055.00" y2="31.20" stroke="#000" stroke-width="1.2" />
<path d="M844.90,31.20 L852.90,34.80 L850.50,31.20 L852.90,27.60 Z" fill="#000" stroke="none" stroke-width="0" />
<path d="M1055.00,31.20 L1047.00,27.60 L1049.40,31.20 L1047.00,34.80 Z" fill="#000" stroke="none" stroke-width="0" />
<line x1="866.10" y1="171.60" x2="1037.20" y2="171.60" stroke="#000" stroke-width="1.2" />
<path d="M866.10,171.60 L874.10,175.20 L871.70,171.60 L874.10,168.00 Z" fill="#000" stroke="none" stroke-width="0" />
<path d="M1037.20,171.60 L1029.20,168.00 L1031.60,171.60 L1029.20,175.20 Z" fill="#000" stroke="none" stroke-width="0" />
<line x1="773.00" y1="183.00" x2="773.00" y2="224.00" stroke="#000" stroke-width="1.3" />
<path d="M773.00,182.60 L769.40,190.60 L773.00,188.20 L776.60,190.60 Z" fill="#000" stroke="none" stroke-width="0" />
<path d="M773.00,224.20 L776.60,216.20 L773.00,218.60 L769.40,216.20 Z" fill="#000" stroke="none" stroke-width="0" />
<line x1="1112.80" y1="189.00" x2="1112.80" y2="224.00" stroke="#000" stroke-width="1.3" />
<path d="M1112.80,188.60 L1109.20,196.60 L1112.80,194.20 L1116.40,196.60 Z" fill="#000" stroke="none" stroke-width="0" />
<path d="M1112.80,224.20 L1116.40,216.20 L1112.80,218.60 L1109.20,216.20 Z" fill="#000" stroke="none" stroke-width="0" />
<line x1="819.00" y1="252.70" x2="843.00" y2="252.70" stroke="#000" stroke-width="1.2" />
<path d="M843.60,252.70 L835.60,249.10 L838.00,252.70 L835.60,256.30 Z" fill="#000" stroke="none" stroke-width="0" />
<line x1="866.40" y1="252.70" x2="891.00" y2="252.70" stroke="#000" stroke-width="1.2" />
<path d="M866.20,252.70 L874.20,256.30 L871.80,252.70 L874.20,249.10 Z" fill="#000" stroke="none" stroke-width="0" />
<line x1="1012.70" y1="252.30" x2="1037.00" y2="252.30" stroke="#000" stroke-width="1.2" />
<path d="M1037.20,252.30 L1029.20,248.70 L1031.60,252.30 L1029.20,255.90 Z" fill="#000" stroke="none" stroke-width="0" />
<line x1="1056.20" y1="252.30" x2="1080.80" y2="252.30" stroke="#000" stroke-width="1.2" />
<path d="M1056.00,252.30 L1064.00,255.90 L1061.60,252.30 L1064.00,248.70 Z" fill="#000" stroke="none" stroke-width="0" />
<text x="791.5" y="33.0" font-size="14.6" text-anchor="start" ><tspan font-style="italic">P</tspan><tspan font-size="10.5" dy="4">1</tspan></text>
<text x="1088.2" y="38.3" font-size="14.6" text-anchor="start" ><tspan font-style="italic">P</tspan><tspan font-size="10.5" dy="4">2</tspan></text>
<text x="947.5" y="51.0" font-size="14.6" text-anchor="start" font-style="italic">D</text>
<text x="944.0" y="163.0" font-size="14.6" text-anchor="start" ><tspan font-style="italic">R</tspan><tspan font-size="10.5" dy="4">2D</tspan></text>
<text x="749.5" y="208.0" font-size="14.6" text-anchor="start" ><tspan font-style="italic">H</tspan><tspan font-size="10.5" dy="4">1</tspan></text>
<text x="1105.6" y="178.3" font-size="14.6" text-anchor="start" ><tspan font-style="italic">H</tspan><tspan font-size="10.5" dy="4">2</tspan></text>
<text x="781.2" y="258.5" font-size="14.6" text-anchor="start" ><tspan font-style="italic">H</tspan><tspan font-size="10.5" dy="4">1</tspan><tspan dy="-4">/2</tspan></text>
<text x="1084.2" y="258.5" font-size="14.6" text-anchor="start" ><tspan font-style="italic">H</tspan><tspan font-size="10.5" dy="4">2</tspan><tspan dy="-4">/2</tspan></text>
<text x="944.5" y="251.2" font-size="14.6" text-anchor="middle" >Mica</text>
<text x="746.5" y="320.7" font-size="16" font-weight="bold">i</text>
<line x1="806.70" y1="321.10" x2="806.70" y2="453.00" stroke="#555" stroke-width="1.1" />
<line x1="806.70" y1="453.00" x2="1136.30" y2="453.00" stroke="#555" stroke-width="1.1" />
<line x1="801.30" y1="453.00" x2="806.70" y2="453.00" stroke="#555" stroke-width="1" />
<text x="797.0" y="458.2" font-size="14.6" text-anchor="end" >10</text>
<line x1="801.30" y1="387.05" x2="806.70" y2="387.05" stroke="#555" stroke-width="1" />
<text x="797.0" y="392.2" font-size="14.6" text-anchor="end" >20</text>
<line x1="801.30" y1="321.10" x2="806.70" y2="321.10" stroke="#555" stroke-width="1" />
<text x="797.0" y="326.3" font-size="14.6" text-anchor="end" >30</text>
<line x1="861.70" y1="453.00" x2="861.70" y2="458.20" stroke="#555" stroke-width="1" />
<line x1="916.30" y1="453.00" x2="916.30" y2="458.20" stroke="#555" stroke-width="1" />
<line x1="971.40" y1="453.00" x2="971.40" y2="458.20" stroke="#555" stroke-width="1" />
<line x1="1026.70" y1="453.00" x2="1026.70" y2="458.20" stroke="#555" stroke-width="1" />
<line x1="1081.30" y1="453.00" x2="1081.30" y2="458.20" stroke="#555" stroke-width="1" />
<line x1="806.70" y1="384.30" x2="1136.30" y2="384.30" stroke="#333" stroke-width="1.1" />
<line x1="806.70" y1="378.20" x2="1136.30" y2="378.20" stroke="#333" stroke-width="1.1" stroke-dasharray="5,3.2"/>
<line x1="806.70" y1="390.10" x2="1136.30" y2="390.10" stroke="#333" stroke-width="1.1" stroke-dasharray="5,3.2"/>
<line x1="861.70" y1="379.50" x2="861.70" y2="386.60" stroke="#1a1aff" stroke-width="0.9" />
<line x1="859.10" y1="379.50" x2="864.30" y2="379.50" stroke="#1a1aff" stroke-width="0.9" />
<line x1="859.10" y1="386.60" x2="864.30" y2="386.60" stroke="#1a1aff" stroke-width="0.9" />
<circle cx="861.7" cy="383.0" r="2.7" fill="#1a1aff"/>
<line x1="916.30" y1="369.40" x2="916.30" y2="399.30" stroke="#1a1aff" stroke-width="0.9" />
<line x1="913.70" y1="369.40" x2="918.90" y2="369.40" stroke="#1a1aff" stroke-width="0.9" />
<line x1="913.70" y1="399.30" x2="918.90" y2="399.30" stroke="#1a1aff" stroke-width="0.9" />
<circle cx="916.3" cy="384.3" r="2.7" fill="#1a1aff"/>
<line x1="971.40" y1="382.40" x2="971.40" y2="389.70" stroke="#1a1aff" stroke-width="0.9" />
<line x1="968.80" y1="382.40" x2="974.00" y2="382.40" stroke="#1a1aff" stroke-width="0.9" />
<line x1="968.80" y1="389.70" x2="974.00" y2="389.70" stroke="#1a1aff" stroke-width="0.9" />
<circle cx="971.4" cy="386.3" r="2.7" fill="#1a1aff"/>
<line x1="1026.70" y1="374.40" x2="1026.70" y2="393.30" stroke="#ff3030" stroke-width="0.9" />
<line x1="1024.10" y1="374.40" x2="1029.30" y2="374.40" stroke="#ff3030" stroke-width="0.9" />
<line x1="1024.10" y1="393.30" x2="1029.30" y2="393.30" stroke="#ff3030" stroke-width="0.9" />
<line x1="1023.50" y1="380.60" x2="1029.90" y2="387.00" stroke="#ff3030" stroke-width="1.1" />
<line x1="1023.50" y1="387.00" x2="1029.90" y2="380.60" stroke="#ff3030" stroke-width="1.1" />
<line x1="1081.30" y1="378.60" x2="1081.30" y2="391.00" stroke="#0a8a0a" stroke-width="0.9" />
<line x1="1078.70" y1="378.60" x2="1083.90" y2="378.60" stroke="#0a8a0a" stroke-width="0.9" />
<line x1="1078.70" y1="391.00" x2="1083.90" y2="391.00" stroke="#0a8a0a" stroke-width="0.9" />
<path d="M1081.3,382.5 L1084.2,387.8 L1078.4,387.8 Z" fill="#0a8a0a"/>
<text x="802.9" y="474.8" font-size="14.6" text-anchor="start" >pH</text>
<text x="861.7" y="478.6" font-size="14.6" text-anchor="middle" >6</text>
<text x="916.3" y="478.6" font-size="14.6" text-anchor="middle" >7</text>
<text x="971.4" y="478.6" font-size="14.6" text-anchor="middle" >8</text>
<text x="1026.7" y="478.6" font-size="14.6" text-anchor="middle" >8</text>
<text x="1081.3" y="478.6" font-size="14.6" text-anchor="middle" >8</text>
<text x="800.0" y="496.5" font-size="14.6" text-anchor="start" >Salt</text>
<line x1="861.70" y1="487.30" x2="971.40" y2="487.30" stroke="#222" stroke-width="1" />
<text x="916.3" y="505.5" font-size="14.6" text-anchor="middle" >20 mM KCl</text>
<text x="1026.7" y="497.4" font-size="14.6" text-anchor="middle" >50 mM</text>
<text x="1026.7" y="513.3" font-size="14.6" text-anchor="middle" >NaCl</text>
<text x="1083.4" y="497.4" font-size="14.6" text-anchor="middle" >300 mM</text>
<text x="1083.4" y="513.3" font-size="14.6" text-anchor="middle" >NaCl</text>
<text x="905.8" y="324.9" font-size="14.6" text-anchor="start" >Atg1</text>
<text x="905.8" y="339.9" font-size="14.6" text-anchor="start" >Weighted mean = 20.5 nm</text>
<text x="905.8" y="354.6" font-size="14.6" text-anchor="start" >Weighted s.e.m. = 0.9 nm</text>
<g transform="translate(766.70 387.20) rotate(-90) translate(-33.40 0)"><path d="M3.72,-10.80 L0.88,-4.16 L3.72,2.48" fill="none" stroke="#111" stroke-width="0.95"/><text x="4.38" y="0.00" font-size="14.6" font-style="italic">R</text><text x="14.92" y="3.94" font-size="10.51">2D</text><path d="M29.02,-10.80 L31.87,-4.16 L29.02,2.48" fill="none" stroke="#111" stroke-width="0.95"/><text x="32.74" y="0.00" font-size="14.6"> (nm)</text></g>
<text x="746.5" y="535.0" font-size="16" font-weight="bold">m</text>
<line x1="806.70" y1="538.20" x2="806.70" y2="669.90" stroke="#555" stroke-width="1.1" />
<line x1="806.70" y1="669.90" x2="1136.30" y2="669.90" stroke="#555" stroke-width="1.1" />
<line x1="801.30" y1="669.90" x2="806.70" y2="669.90" stroke="#555" stroke-width="1" />
<text x="797.0" y="675.1" font-size="14.6" text-anchor="end" >10</text>
<line x1="801.30" y1="626.00" x2="806.70" y2="626.00" stroke="#555" stroke-width="1" />
<text x="797.0" y="631.2" font-size="14.6" text-anchor="end" >20</text>
<line x1="801.30" y1="582.10" x2="806.70" y2="582.10" stroke="#555" stroke-width="1" />
<text x="797.0" y="587.3" font-size="14.6" text-anchor="end" >30</text>
<line x1="801.30" y1="538.20" x2="806.70" y2="538.20" stroke="#555" stroke-width="1" />
<text x="797.0" y="543.4" font-size="14.6" text-anchor="end" >40</text>
<line x1="806.70" y1="669.90" x2="806.70" y2="675.60" stroke="#555" stroke-width="1" />
<text x="806.7" y="696.0" font-size="14.6" text-anchor="middle" >5</text>
<line x1="889.10" y1="669.90" x2="889.10" y2="675.60" stroke="#555" stroke-width="1" />
<text x="889.1" y="696.0" font-size="14.6" text-anchor="middle" >6</text>
<line x1="971.50" y1="669.90" x2="971.50" y2="675.60" stroke="#555" stroke-width="1" />
<text x="971.5" y="696.0" font-size="14.6" text-anchor="middle" >7</text>
<line x1="1053.90" y1="669.90" x2="1053.90" y2="675.60" stroke="#555" stroke-width="1" />
<text x="1053.9" y="696.0" font-size="14.6" text-anchor="middle" >8</text>
<line x1="1136.30" y1="669.90" x2="1136.30" y2="675.60" stroke="#555" stroke-width="1" />
<text x="1136.3" y="696.0" font-size="14.6" text-anchor="middle" >9</text>
<text x="985.3" y="714.6" font-size="14.6" text-anchor="middle" >pH</text>
<line x1="806.70" y1="591.30" x2="1136.30" y2="591.30" stroke="#333" stroke-width="1.1" />
<line x1="806.70" y1="582.30" x2="1136.30" y2="582.30" stroke="#333" stroke-width="1.1" stroke-dasharray="5,3.2"/>
<line x1="806.70" y1="600.10" x2="1136.30" y2="600.10" stroke="#333" stroke-width="1.1" stroke-dasharray="5,3.2"/>
<line x1="889.50" y1="584.20" x2="889.50" y2="598.60" stroke="#1a1aff" stroke-width="0.9" />
<line x1="886.90" y1="584.20" x2="892.10" y2="584.20" stroke="#1a1aff" stroke-width="0.9" />
<line x1="886.90" y1="598.60" x2="892.10" y2="598.60" stroke="#1a1aff" stroke-width="0.9" />
<circle cx="889.5" cy="591.3" r="2.7" fill="#1a1aff"/>
<line x1="971.70" y1="570.20" x2="971.70" y2="610.70" stroke="#1a1aff" stroke-width="0.9" />
<line x1="969.10" y1="570.20" x2="974.30" y2="570.20" stroke="#1a1aff" stroke-width="0.9" />
<line x1="969.10" y1="610.70" x2="974.30" y2="610.70" stroke="#1a1aff" stroke-width="0.9" />
<circle cx="971.7" cy="590.5" r="2.7" fill="#1a1aff"/>
<line x1="1053.70" y1="574.40" x2="1053.70" y2="609.50" stroke="#1a1aff" stroke-width="0.9" />
<line x1="1051.10" y1="574.40" x2="1056.30" y2="574.40" stroke="#1a1aff" stroke-width="0.9" />
<line x1="1051.10" y1="609.50" x2="1056.30" y2="609.50" stroke="#1a1aff" stroke-width="0.9" />
<circle cx="1053.7" cy="592.3" r="2.7" fill="#1a1aff"/>
<text x="913.1" y="628.3" font-size="14.6" text-anchor="start" >Atg13</text>
<text x="913.1" y="643.3" font-size="14.6" text-anchor="start" >Weighted mean = 28.0 nm</text>
<text x="913.1" y="658.0" font-size="14.6" text-anchor="start" >Weighted s.e.m. = 2.0 nm</text>
<g transform="translate(766.70 603.40) rotate(-90) translate(-33.40 0)"><path d="M3.72,-10.80 L0.88,-4.16 L3.72,2.48" fill="none" stroke="#111" stroke-width="0.95"/><text x="4.38" y="0.00" font-size="14.6" font-style="italic">R</text><text x="14.92" y="3.94" font-size="10.51">2D</text><path d="M29.02,-10.80 L31.87,-4.16 L29.02,2.48" fill="none" stroke="#111" stroke-width="0.95"/><text x="32.74" y="0.00" font-size="14.6"> (nm)</text></g>
<text x="700.0" y="748.5" font-size="16" font-weight="bold">n</text>
<line x1="752.70" y1="754.00" x2="752.70" y2="1193.20" stroke="#555" stroke-width="1.1" />
<line x1="1148.00" y1="754.00" x2="1148.00" y2="1193.20" stroke="#555" stroke-width="1.1" />
<line x1="752.70" y1="1193.20" x2="1148.00" y2="1193.20" stroke="#555" stroke-width="1.1" />
<line x1="747.70" y1="1193.20" x2="752.70" y2="1193.20" stroke="#555" stroke-width="1" />
<text x="741.6" y="1198.4" font-size="14.6" text-anchor="end" >0</text>
<line x1="747.70" y1="1046.90" x2="752.70" y2="1046.90" stroke="#555" stroke-width="1" />
<text x="741.6" y="1052.1" font-size="14.6" text-anchor="end" >10</text>
<line x1="747.70" y1="900.60" x2="752.70" y2="900.60" stroke="#555" stroke-width="1" />
<text x="741.6" y="905.8" font-size="14.6" text-anchor="end" >20</text>
<line x1="747.70" y1="754.30" x2="752.70" y2="754.30" stroke="#555" stroke-width="1" />
<text x="741.6" y="759.5" font-size="14.6" text-anchor="end" >30</text>
<line x1="1148.00" y1="1193.20" x2="1151.00" y2="1193.20" stroke="#555" stroke-width="1" />
<text x="1158.3" y="1198.4" font-size="14.6" text-anchor="start" >0</text>
<line x1="1148.00" y1="1046.89" x2="1151.00" y2="1046.89" stroke="#555" stroke-width="1" />
<text x="1158.3" y="1052.1" font-size="14.6" text-anchor="start" >3</text>
<line x1="1148.00" y1="900.58" x2="1151.00" y2="900.58" stroke="#555" stroke-width="1" />
<text x="1158.3" y="905.8" font-size="14.6" text-anchor="start" >6</text>
<line x1="1148.00" y1="754.27" x2="1151.00" y2="754.27" stroke="#555" stroke-width="1" />
<text x="1158.3" y="759.5" font-size="14.6" text-anchor="start" >9</text>
<line x1="752.70" y1="1193.20" x2="752.70" y2="1196.20" stroke="#555" stroke-width="1" />
<text x="752.7" y="1214.2" font-size="14.6" text-anchor="middle" >0</text>
<line x1="831.65" y1="1193.20" x2="831.65" y2="1196.20" stroke="#555" stroke-width="1" />
<text x="831.7" y="1214.2" font-size="14.6" text-anchor="middle" >100</text>
<line x1="910.60" y1="1193.20" x2="910.60" y2="1196.20" stroke="#555" stroke-width="1" />
<text x="910.6" y="1214.2" font-size="14.6" text-anchor="middle" >200</text>
<line x1="989.55" y1="1193.20" x2="989.55" y2="1196.20" stroke="#555" stroke-width="1" />
<text x="989.6" y="1214.2" font-size="14.6" text-anchor="middle" >300</text>
<line x1="1068.50" y1="1193.20" x2="1068.50" y2="1196.20" stroke="#555" stroke-width="1" />
<text x="1068.5" y="1214.2" font-size="14.6" text-anchor="middle" >400</text>
<line x1="1147.45" y1="1193.20" x2="1147.45" y2="1196.20" stroke="#555" stroke-width="1" />
<text x="1147.5" y="1214.2" font-size="14.6" text-anchor="middle" >500</text>
<g transform="translate(938.50 1237.00)"><text x="0.00" y="0.00" font-size="14.6" font-style="italic">N</text><text x="10.54" y="3.94" font-size="10.51">aa</text></g>
<g transform="translate(712.50 972.50) rotate(-90) translate(-33.40 0)"><path d="M3.72,-10.80 L0.88,-4.16 L3.72,2.48" fill="none" stroke="#111" stroke-width="0.95"/><text x="4.38" y="0.00" font-size="14.6" font-style="italic">R</text><text x="14.92" y="3.94" font-size="10.51">2D</text><path d="M29.02,-10.80 L31.87,-4.16 L29.02,2.48" fill="none" stroke="#111" stroke-width="0.95"/><text x="32.74" y="0.00" font-size="14.6"> (nm)</text></g>
<g transform="translate(1176.50 972.50) rotate(90) translate(-29.61 0)"><path d="M3.72,-10.80 L0.88,-4.16 L3.72,2.48" fill="none" stroke="#111" stroke-width="0.95"/><text x="4.38" y="0.00" font-size="14.6" font-style="italic">R</text><text x="14.92" y="3.94" font-size="10.51">g</text><path d="M21.43,-10.80 L24.27,-4.16 L21.43,2.48" fill="none" stroke="#111" stroke-width="0.95"/><text x="25.15" y="0.00" font-size="14.6"> (nm)</text></g>
<path d="M752.94,1183.90 L753.02,1182.37 L753.19,1179.75 L753.41,1176.82 L753.69,1173.79 L754.02,1170.76 L754.38,1167.75 L754.78,1164.77 L755.22,1161.82 L755.70,1158.92 L756.21,1156.05 L756.74,1153.22 L757.31,1150.43 L757.91,1147.66 L758.54,1144.93 L759.19,1142.22 L759.87,1139.54 L760.58,1136.88 L761.31,1134.25 L762.07,1131.65 L762.85,1129.06 L763.65,1126.49 L764.48,1123.95 L765.33,1121.42 L766.20,1118.91 L767.10,1116.42 L768.02,1113.94 L768.95,1111.48 L769.91,1109.04 L770.89,1106.60 L771.90,1104.19 L772.92,1101.78 L773.96,1099.39 L775.02,1097.02 L776.10,1094.65 L777.20,1092.30 L778.32,1089.95 L779.45,1087.62 L780.61,1085.30 L781.78,1082.99 L782.98,1080.69 L784.19,1078.40 L785.42,1076.12 L786.66,1073.85 L787.93,1071.59 L789.21,1069.33 L790.51,1067.09 L791.82,1064.85 L793.15,1062.63 L794.50,1060.41 L795.87,1058.19 L797.25,1055.99 L798.65,1053.79 L800.06,1051.60 L801.49,1049.42 L802.94,1047.24 L804.40,1045.07 L805.88,1042.91 L807.37,1040.76 L808.88,1038.61 L810.41,1036.47 L811.95,1034.33 L813.50,1032.20 L815.08,1030.07 L816.66,1027.96 L818.26,1025.84 L819.88,1023.74 L821.51,1021.63 L823.15,1019.54 L824.81,1017.45 L826.48,1015.36 L828.17,1013.28 L829.88,1011.21 L831.59,1009.14 L833.32,1007.07 L835.07,1005.01 L836.83,1002.96 L838.60,1000.91 L840.39,998.86 L842.19,996.82 L844.00,994.78 L845.83,992.75 L847.67,990.72 L849.53,988.70 L851.40,986.68 L853.28,984.67 L855.17,982.66 L857.08,980.65 L859.01,978.65 L860.94,976.65 L862.89,974.65 L864.85,972.66 L866.82,970.68 L868.81,968.69 L870.81,966.71 L872.82,964.74 L874.85,962.76 L876.89,960.80 L878.94,958.83 L881.00,956.87 L883.08,954.91 L885.17,952.96 L887.27,951.01 L889.38,949.06 L891.51,947.11 L893.64,945.17 L895.79,943.24 L897.96,941.30 L900.13,939.37 L902.32,937.44 L904.52,935.52 L906.73,933.60 L908.95,931.68 L911.19,929.76 L913.43,927.85 L915.69,925.94 L917.96,924.03 L920.24,922.13 L922.54,920.22 L924.84,918.33 L927.16,916.43 L929.49,914.54 L931.83,912.65 L934.18,910.76 L936.54,908.88 L938.92,906.99 L941.30,905.11 L943.70,903.24 L946.11,901.36 L948.53,899.49 L950.96,897.62 L953.41,895.76 L955.86,893.89 L958.33,892.03 L960.80,890.17 L963.29,888.32 L965.79,886.46 L968.30,884.61 L970.82,882.76 L973.35,880.92 L975.89,879.07 L978.45,877.23 L981.01,875.39 L983.59,873.55 L986.17,871.72 L988.77,869.88 L991.38,868.05 L993.99,866.22 L996.62,864.40 L999.26,862.57 L1001.91,860.75 L1004.58,858.93 L1007.25,857.11 L1009.93,855.30 L1012.62,853.48 L1015.32,851.67 L1018.04,849.86 L1020.76,848.06 L1023.50,846.25 L1026.24,844.45 L1029.00,842.65 L1031.76,840.85 L1034.54,839.05 L1037.33,837.25 L1040.12,835.46 L1042.93,833.67 L1045.75,831.88 L1048.57,830.09 L1051.41,828.31 L1054.26,826.52 L1057.12,824.74 L1059.99,822.96 L1062.86,821.18 L1065.75,819.40 L1068.65,817.63 L1071.56,815.86 L1074.48,814.09 L1077.40,812.32 L1080.34,810.55 L1083.29,808.78 L1086.25,807.02 L1089.22,805.26 L1092.19,803.50 L1095.18,801.74 L1098.18,799.98 L1101.18,798.22 L1104.20,796.47 L1107.23,794.72 L1110.26,792.97 L1113.31,791.22 L1116.37,789.47 L1119.43,787.73 L1122.51,785.98 L1125.59,784.24 L1128.68,782.50 L1131.79,780.76 L1134.90,779.02 L1138.02,777.29 L1141.16,775.55 L1144.30,773.82 L1147.45,772.09" fill="none" stroke="#3344ff" stroke-width="1.1" />
<path d="M752.94,1181.50 L753.00,1180.35 L753.11,1178.38 L753.28,1176.16 L753.48,1173.89 L753.71,1171.63 L753.97,1169.43 L754.26,1167.28 L754.57,1165.18 L754.91,1163.14 L755.27,1161.15 L755.66,1159.21 L756.06,1157.30 L756.49,1155.44 L756.94,1153.62 L757.40,1151.83 L757.89,1150.08 L758.39,1148.35 L758.92,1146.66 L759.46,1144.99 L760.01,1143.35 L760.59,1141.73 L761.18,1140.13 L761.79,1138.56 L762.41,1137.00 L763.05,1135.47 L763.70,1133.95 L764.38,1132.45 L765.06,1130.97 L765.76,1129.50 L766.48,1128.05 L767.20,1126.62 L767.95,1125.20 L768.71,1123.79 L769.48,1122.39 L770.26,1121.01 L771.06,1119.64 L771.87,1118.28 L772.70,1116.94 L773.54,1115.60 L774.39,1114.28 L775.25,1112.96 L776.13,1111.66 L777.02,1110.36 L777.92,1109.08 L778.84,1107.80 L779.77,1106.54 L780.70,1105.28 L781.66,1104.03 L782.62,1102.79 L783.59,1101.55 L784.58,1100.33 L785.58,1099.11 L786.59,1097.90 L787.61,1096.69 L788.64,1095.50 L789.69,1094.31 L790.74,1093.12 L791.81,1091.95 L792.89,1090.78 L793.98,1089.61 L795.08,1088.45 L796.19,1087.30 L797.31,1086.16 L798.44,1085.02 L799.59,1083.88 L800.74,1082.75 L801.90,1081.63 L803.08,1080.51 L804.26,1079.40 L805.46,1078.29 L806.66,1077.19 L807.88,1076.09 L809.11,1075.00 L810.34,1073.91 L811.59,1072.83 L812.84,1071.75 L814.11,1070.68 L815.39,1069.61 L816.67,1068.54 L817.97,1067.48 L819.27,1066.43 L820.59,1065.37 L821.91,1064.32 L823.25,1063.28 L824.59,1062.24 L825.95,1061.20 L827.31,1060.17 L828.68,1059.14 L830.06,1058.12 L831.45,1057.10 L832.85,1056.08 L834.26,1055.06 L835.68,1054.05 L837.11,1053.05 L838.55,1052.04 L840.00,1051.04 L841.45,1050.05 L842.92,1049.05 L844.39,1048.06 L845.87,1047.08 L847.36,1046.09 L848.86,1045.11 L850.37,1044.13 L851.89,1043.16 L853.42,1042.19 L854.95,1041.22 L856.50,1040.25 L858.05,1039.29 L859.61,1038.33 L861.18,1037.37 L862.76,1036.42 L864.35,1035.47 L865.94,1034.52 L867.55,1033.57 L869.16,1032.63 L870.78,1031.69 L872.41,1030.75 L874.05,1029.81 L875.70,1028.88 L877.35,1027.95 L879.01,1027.02 L880.68,1026.09 L882.36,1025.17 L884.05,1024.25 L885.75,1023.33 L887.45,1022.42 L889.16,1021.50 L890.88,1020.59 L892.61,1019.68 L894.35,1018.78 L896.09,1017.87 L897.85,1016.97 L899.61,1016.07 L901.38,1015.17 L903.15,1014.27 L904.94,1013.38 L906.73,1012.49 L908.53,1011.60 L910.34,1010.71 L912.15,1009.83 L913.98,1008.94 L915.81,1008.06 L917.65,1007.18 L919.49,1006.31 L921.35,1005.43 L923.21,1004.56 L925.08,1003.69 L926.96,1002.82 L928.84,1001.95 L930.73,1001.08 L932.63,1000.22 L934.54,999.36 L936.46,998.50 L938.38,997.64 L940.31,996.78 L942.25,995.93 L944.19,995.07 L946.15,994.22 L948.11,993.37 L950.08,992.52" fill="none" stroke="#ff2a2a" stroke-width="1.1" />
<line x1="840.00" y1="954.00" x2="865.20" y2="954.00" stroke="#1111ff" stroke-width="1.6" />
<path d="M834.00,954.00 L843.00,958.20 L840.30,954.00 L843.00,949.80 Z" fill="#1111ff" stroke="none" stroke-width="0" />
<line x1="914.00" y1="1023.20" x2="939.00" y2="1023.20" stroke="#ff1111" stroke-width="1.6" />
<path d="M945.20,1023.20 L936.20,1019.00 L938.90,1023.20 L936.20,1027.40 Z" fill="#ff1111" stroke="none" stroke-width="0" />
<line x1="773.20" y1="1089.00" x2="784.20" y2="1089.00" stroke="#1111ff" stroke-width="0.9" />
<line x1="773.20" y1="1087.20" x2="773.20" y2="1090.80" stroke="#1111ff" stroke-width="0.9" />
<line x1="784.20" y1="1087.20" x2="784.20" y2="1090.80" stroke="#1111ff" stroke-width="0.9" />
<circle cx="778.7" cy="1089.0" r="3.3" fill="#1111ff"/>
<line x1="789.10" y1="1056.60" x2="800.10" y2="1056.60" stroke="#1111ff" stroke-width="0.9" />
<line x1="789.10" y1="1054.80" x2="789.10" y2="1058.40" stroke="#1111ff" stroke-width="0.9" />
<line x1="800.10" y1="1054.80" x2="800.10" y2="1058.40" stroke="#1111ff" stroke-width="0.9" />
<circle cx="794.6" cy="1056.6" r="3.3" fill="#1111ff"/>
<line x1="812.70" y1="1031.90" x2="823.70" y2="1031.90" stroke="#1111ff" stroke-width="0.9" />
<line x1="812.70" y1="1030.10" x2="812.70" y2="1033.70" stroke="#1111ff" stroke-width="0.9" />
<line x1="823.70" y1="1030.10" x2="823.70" y2="1033.70" stroke="#1111ff" stroke-width="0.9" />
<circle cx="818.2" cy="1031.9" r="3.3" fill="#1111ff"/>
<line x1="851.90" y1="982.40" x2="862.90" y2="982.40" stroke="#1111ff" stroke-width="0.9" />
<line x1="851.90" y1="980.60" x2="851.90" y2="984.20" stroke="#1111ff" stroke-width="0.9" />
<line x1="862.90" y1="980.60" x2="862.90" y2="984.20" stroke="#1111ff" stroke-width="0.9" />
<circle cx="857.4" cy="982.4" r="3.3" fill="#1111ff"/>
<line x1="892.50" y1="941.00" x2="903.50" y2="941.00" stroke="#1111ff" stroke-width="0.9" />
<line x1="892.50" y1="939.20" x2="892.50" y2="942.80" stroke="#1111ff" stroke-width="0.9" />
<line x1="903.50" y1="939.20" x2="903.50" y2="942.80" stroke="#1111ff" stroke-width="0.9" />
<circle cx="898.0" cy="941.0" r="3.3" fill="#1111ff"/>
<line x1="818.30" y1="1027.60" x2="826.50" y2="1027.60" stroke="#1111ff" stroke-width="0.9" />
<line x1="818.30" y1="1025.80" x2="818.30" y2="1029.40" stroke="#1111ff" stroke-width="0.9" />
<line x1="826.50" y1="1025.80" x2="826.50" y2="1029.40" stroke="#1111ff" stroke-width="0.9" />
<line x1="822.30" y1="1023.00" x2="822.30" y2="1032.00" stroke="#1111ff" stroke-width="0.9" />
<line x1="820.10" y1="1023.00" x2="824.50" y2="1023.00" stroke="#1111ff" stroke-width="0.9" />
<line x1="820.10" y1="1032.00" x2="824.50" y2="1032.00" stroke="#1111ff" stroke-width="0.9" />
<rect x="819.60" y="1024.90" width="5.40" height="5.40" fill="#fff" stroke="#1111ff" stroke-width="1" />
<line x1="843.50" y1="983.30" x2="853.00" y2="983.30" stroke="#1111ff" stroke-width="0.9" />
<line x1="843.50" y1="981.50" x2="843.50" y2="985.10" stroke="#1111ff" stroke-width="0.9" />
<line x1="853.00" y1="981.50" x2="853.00" y2="985.10" stroke="#1111ff" stroke-width="0.9" />
<rect x="845.50" y="980.60" width="5.40" height="5.40" fill="#fff" stroke="#1111ff" stroke-width="1" />
<line x1="954.10" y1="879.90" x2="954.10" y2="905.90" stroke="#3344ff" stroke-width="0.9" />
<line x1="949.60" y1="879.90" x2="958.60" y2="879.90" stroke="#3344ff" stroke-width="0.9" />
<line x1="949.60" y1="905.90" x2="958.60" y2="905.90" stroke="#3344ff" stroke-width="0.9" />
<path d="M954.1,888.6 L958.1,895.6 L950.1,895.6 Z" fill="#1111ff"/>
<line x1="1129.60" y1="754.00" x2="1129.60" y2="812.50" stroke="#3344ff" stroke-width="0.9" />
<line x1="1125.10" y1="754.00" x2="1134.10" y2="754.00" stroke="#3344ff" stroke-width="0.9" />
<line x1="1125.10" y1="812.50" x2="1134.10" y2="812.50" stroke="#3344ff" stroke-width="0.9" />
<path d="M1129.6,778.7 L1133.6,785.7 L1125.6,785.7 Z" fill="#1111ff"/>
<line x1="789.40" y1="1088.60" x2="799.80" y2="1088.60" stroke="#ff1111" stroke-width="0.9" />
<line x1="789.40" y1="1086.80" x2="789.40" y2="1090.40" stroke="#ff1111" stroke-width="0.9" />
<line x1="799.80" y1="1086.80" x2="799.80" y2="1090.40" stroke="#ff1111" stroke-width="0.9" />
<circle cx="794.6" cy="1088.6" r="3.3" fill="#ff1111"/>
<line x1="813.00" y1="1062.00" x2="823.40" y2="1062.00" stroke="#ff1111" stroke-width="0.9" />
<line x1="813.00" y1="1060.20" x2="813.00" y2="1063.80" stroke="#ff1111" stroke-width="0.9" />
<line x1="823.40" y1="1060.20" x2="823.40" y2="1063.80" stroke="#ff1111" stroke-width="0.9" />
<circle cx="818.2" cy="1062.0" r="3.3" fill="#ff1111"/>
<line x1="893.00" y1="1016.70" x2="903.40" y2="1016.70" stroke="#ff1111" stroke-width="0.9" />
<line x1="893.00" y1="1014.90" x2="893.00" y2="1018.50" stroke="#ff1111" stroke-width="0.9" />
<line x1="903.40" y1="1014.90" x2="903.40" y2="1018.50" stroke="#ff1111" stroke-width="0.9" />
<circle cx="898.2" cy="1016.7" r="3.3" fill="#ff1111"/>
<line x1="857.40" y1="1033.00" x2="857.40" y2="1050.00" stroke="#ff5050" stroke-width="0.9" />
<line x1="853.40" y1="1033.00" x2="861.40" y2="1033.00" stroke="#ff5050" stroke-width="0.9" />
<line x1="853.40" y1="1050.00" x2="861.40" y2="1050.00" stroke="#ff5050" stroke-width="0.9" />
<circle cx="857.4" cy="1041.7" r="3.3" fill="#ff1111"/>
<text x="1059.2" y="788.3" font-size="14.6" text-anchor="start" >Atg13</text>
<line x1="1100.80" y1="783.00" x2="1121.00" y2="783.00" stroke="#222" stroke-width="1.1" />
<text x="990.3" y="897.7" font-size="14.6" text-anchor="start" >Atg1</text>
<line x1="963.20" y1="893.00" x2="983.30" y2="893.00" stroke="#222" stroke-width="1.1" />
<text x="770.4" y="986.1" font-size="14.6" text-anchor="start" >FACT</text>
<line x1="818.30" y1="983.00" x2="838.40" y2="983.00" stroke="#222" stroke-width="1.1" />
<text x="762.6" y="1004.7" font-size="14.6" text-anchor="start" >(10SA)</text>
<g transform="translate(755.00 1030.80)"><text x="0.00" y="0.00" font-size="14.6">N</text><text x="10.54" y="3.94" font-size="10.51">TAIL</text></g>
<line x1="792.00" y1="1027.00" x2="812.00" y2="1027.00" stroke="#222" stroke-width="1.1" />
<rect x="908.30" y="1045.00" width="222.70" height="131.20" fill="#fff" stroke="#111" stroke-width="1.3" />
<rect x="961.50" y="1126.66" width="20.69" height="17.34" fill="#f4e36c" stroke="#222" stroke-width="0.8" />
<rect x="982.19" y="1108.16" width="20.69" height="35.84" fill="#f4e36c" stroke="#222" stroke-width="0.8" />
<rect x="1002.88" y="1059.61" width="20.69" height="84.39" fill="#f4e36c" stroke="#222" stroke-width="0.8" />
<rect x="1023.58" y="1114.23" width="20.69" height="29.77" fill="#f4e36c" stroke="#222" stroke-width="0.8" />
<rect x="1044.27" y="1127.24" width="20.69" height="16.76" fill="#f4e36c" stroke="#222" stroke-width="0.8" />
<rect x="1064.96" y="1142.84" width="20.69" height="1.16" fill="#f4e36c" stroke="#222" stroke-width="0.8" />
<rect x="1085.65" y="1143.42" width="20.69" height="0.58" fill="#f4e36c" stroke="#222" stroke-width="0.8" />
<rect x="1106.34" y="1143.71" width="10.35" height="0.29" fill="#f4e36c" stroke="#222" stroke-width="0.8" />
<line x1="961.50" y1="1057.30" x2="961.50" y2="1144.00" stroke="#555" stroke-width="0.9" />
<line x1="961.50" y1="1144.00" x2="1116.69" y2="1144.00" stroke="#555" stroke-width="0.9" />
<line x1="958.50" y1="1144.00" x2="961.50" y2="1144.00" stroke="#555" stroke-width="0.9" />
<text x="955.0" y="1147.8" font-size="10.4" text-anchor="end" >0</text>
<line x1="958.50" y1="1100.65" x2="961.50" y2="1100.65" stroke="#555" stroke-width="0.9" />
<text x="955.0" y="1104.5" font-size="10.4" text-anchor="end" >150</text>
<line x1="958.50" y1="1057.30" x2="961.50" y2="1057.30" stroke="#555" stroke-width="0.9" />
<text x="955.0" y="1061.1" font-size="10.4" text-anchor="end" >300</text>
<line x1="961.50" y1="1144.00" x2="961.50" y2="1146.50" stroke="#555" stroke-width="0.9" />
<text x="961.5" y="1158.3" font-size="10.4" text-anchor="middle" >0</text>
<line x1="1013.23" y1="1144.00" x2="1013.23" y2="1146.50" stroke="#555" stroke-width="0.9" />
<text x="1013.2" y="1158.3" font-size="10.4" text-anchor="middle" >0.5</text>
<line x1="1064.96" y1="1144.00" x2="1064.96" y2="1146.50" stroke="#555" stroke-width="0.9" />
<text x="1065.0" y="1158.3" font-size="10.4" text-anchor="middle" >1.0</text>
<line x1="1116.69" y1="1144.00" x2="1116.69" y2="1146.50" stroke="#555" stroke-width="0.9" />
<text x="1116.7" y="1158.3" font-size="10.4" text-anchor="middle" >1.5</text>
<text x="1039.2" y="1172.5" font-size="10.4" text-anchor="middle" >Height (nm)</text>
<text font-size="10.4" text-anchor="middle" transform="translate(927.6 1100.6) rotate(-90)">Number of points</text>
<path d="M971.85,1140.59 L973.05,1139.89 L974.26,1139.07 L975.47,1138.13 L976.67,1137.04 L977.88,1135.80 L979.09,1134.39 L980.30,1132.81 L981.50,1131.04 L982.71,1129.08 L983.92,1126.91 L985.12,1124.54 L986.33,1121.96 L987.54,1119.19 L988.74,1116.22 L989.95,1113.08 L991.16,1109.77 L992.37,1106.33 L993.57,1102.77 L994.78,1099.13 L995.99,1095.45 L997.19,1091.76 L998.40,1088.10 L999.61,1084.53 L1000.81,1081.09 L1002.02,1077.83 L1003.23,1074.79 L1004.44,1072.02 L1005.64,1069.56 L1006.85,1067.45 L1008.06,1065.73 L1009.26,1064.42 L1010.47,1063.55 L1011.68,1063.12 L1012.89,1063.15 L1014.09,1063.64 L1015.30,1064.58 L1016.51,1065.95 L1017.71,1067.73 L1018.92,1069.89 L1020.13,1072.40 L1021.33,1075.21 L1022.54,1078.28 L1023.75,1081.58 L1024.96,1085.04 L1026.16,1088.62 L1027.37,1092.28 L1028.58,1095.97 L1029.78,1099.65 L1030.99,1103.28 L1032.20,1106.83 L1033.40,1110.25 L1034.61,1113.54 L1035.82,1116.66 L1037.03,1119.60 L1038.23,1122.34 L1039.44,1124.89 L1040.65,1127.23 L1041.85,1129.37 L1043.06,1131.31 L1044.27,1133.05 L1045.48,1134.61 L1046.68,1135.99 L1047.89,1137.20 L1049.10,1138.27 L1050.30,1139.19 L1051.51,1139.99 L1052.72,1140.68 L1053.92,1141.26 L1055.13,1141.75 L1056.34,1142.17 L1057.55,1142.52 L1058.75,1142.80 L1059.96,1143.04 L1061.17,1143.24 L1062.37,1143.39 L1063.58,1143.52 L1064.79,1143.63 L1065.99,1143.71 L1067.20,1143.77 L1068.41,1143.83 L1069.62,1143.87 L1070.82,1143.90 L1072.03,1143.92 L1073.24,1143.94 L1074.44,1143.96 L1075.65,1143.97 L1076.86,1143.98 L1078.06,1143.98 L1079.27,1143.99 L1080.48,1143.99 L1081.69,1143.99 L1082.89,1144.00 L1084.10,1144.00 L1085.31,1144.00 L1086.51,1144.00 L1087.72,1144.00 L1088.93,1144.00 L1090.14,1144.00 L1091.34,1144.00 L1092.55,1144.00 L1093.76,1144.00 L1094.96,1144.00 L1096.17,1144.00 L1097.38,1144.00 L1098.58,1144.00 L1099.79,1144.00 L1101.00,1144.00 L1102.21,1144.00 L1103.41,1144.00 L1104.62,1144.00 L1105.83,1144.00 L1107.03,1144.00 L1108.24,1144.00 L1109.45,1144.00 L1110.65,1144.00 L1111.86,1144.00 L1113.07,1144.00 L1114.28,1144.00 L1115.48,1144.00 L1116.69,1144.00" fill="none" stroke="#ff8c00" stroke-width="1.6" />
<g transform="translate(1042.50 1069.40)"><text x="0.00" y="0.00" font-size="10.4" font-style="italic">N</text><text x="7.51" y="0.00" font-size="10.4"> = 647</text></g>
<text x="1042.5" y="1082.9" font-size="10.4" text-anchor="start" >Mean = 0.5 nm</text>
<text x="1042.5" y="1095.4" font-size="10.4" text-anchor="start" >s.e.m. = 0.005 nm</text>
<text x="7.5" y="715.0" font-size="16" font-weight="bold">f</text>
<rect x="152.50" y="852.92" width="7.91" height="0.88" fill="#dcdcdc" stroke="#8a8a8a" stroke-width="0.8" />
<rect x="160.41" y="848.23" width="7.91" height="5.57" fill="#dcdcdc" stroke="#8a8a8a" stroke-width="0.8" />
<rect x="168.32" y="837.37" width="7.91" height="16.43" fill="#dcdcdc" stroke="#8a8a8a" stroke-width="0.8" />
<rect x="176.23" y="807.45" width="7.91" height="46.35" fill="#dcdcdc" stroke="#8a8a8a" stroke-width="0.8" />
<rect x="184.14" y="776.36" width="7.91" height="77.44" fill="#dcdcdc" stroke="#8a8a8a" stroke-width="0.8" />
<rect x="192.05" y="759.35" width="7.91" height="94.45" fill="#dcdcdc" stroke="#8a8a8a" stroke-width="0.8" />
<rect x="199.96" y="736.47" width="7.91" height="117.33" fill="#dcdcdc" stroke="#8a8a8a" stroke-width="0.8" />
<rect x="207.87" y="748.20" width="7.91" height="105.60" fill="#dcdcdc" stroke="#8a8a8a" stroke-width="0.8" />
<rect x="215.78" y="790.44" width="7.91" height="63.36" fill="#dcdcdc" stroke="#8a8a8a" stroke-width="0.8" />
<rect x="223.69" y="823.29" width="7.91" height="30.51" fill="#dcdcdc" stroke="#8a8a8a" stroke-width="0.8" />
<rect x="231.60" y="847.35" width="7.91" height="6.45" fill="#dcdcdc" stroke="#8a8a8a" stroke-width="0.8" />
<rect x="239.51" y="851.75" width="7.91" height="2.05" fill="#dcdcdc" stroke="#8a8a8a" stroke-width="0.8" />
<line x1="73.40" y1="721.80" x2="73.40" y2="853.80" stroke="#444" stroke-width="1.0" />
<line x1="73.40" y1="853.80" x2="310.70" y2="853.80" stroke="#444" stroke-width="1.0" />
<line x1="69.80" y1="853.80" x2="73.40" y2="853.80" stroke="#444" stroke-width="1.0" />
<text x="61.8" y="859.4" font-size="14.6" text-anchor="end" >0</text>
<line x1="69.80" y1="787.80" x2="73.40" y2="787.80" stroke="#444" stroke-width="1.0" />
<text x="61.8" y="793.4" font-size="14.6" text-anchor="end" >225</text>
<line x1="69.80" y1="721.80" x2="73.40" y2="721.80" stroke="#444" stroke-width="1.0" />
<text x="61.8" y="727.4" font-size="14.6" text-anchor="end" >450</text>
<line x1="73.40" y1="853.80" x2="73.40" y2="857.00" stroke="#444" stroke-width="1.0" />
<text x="73.4" y="876.9" font-size="14.6" text-anchor="middle" >0</text>
<line x1="152.50" y1="853.80" x2="152.50" y2="857.00" stroke="#444" stroke-width="1.0" />
<text x="152.5" y="876.9" font-size="14.6" text-anchor="middle" >2</text>
<line x1="231.60" y1="853.80" x2="231.60" y2="857.00" stroke="#444" stroke-width="1.0" />
<text x="231.6" y="876.9" font-size="14.6" text-anchor="middle" >4</text>
<line x1="310.70" y1="853.80" x2="310.70" y2="857.00" stroke="#444" stroke-width="1.0" />
<text x="310.7" y="876.9" font-size="14.6" text-anchor="middle" >6</text>
<path d="M77.36,853.80 L78.40,853.80 L79.44,853.80 L80.48,853.80 L81.53,853.80 L82.57,853.80 L83.61,853.80 L84.65,853.80 L85.70,853.80 L86.74,853.80 L87.78,853.80 L88.82,853.80 L89.87,853.80 L90.91,853.80 L91.95,853.80 L93.00,853.80 L94.04,853.80 L95.08,853.80 L96.12,853.80 L97.17,853.80 L98.21,853.80 L99.25,853.80 L100.29,853.80 L101.34,853.80 L102.38,853.80 L103.42,853.80 L104.46,853.80 L105.51,853.80 L106.55,853.80 L107.59,853.80 L108.64,853.80 L109.68,853.80 L110.72,853.80 L111.76,853.80 L112.81,853.80 L113.85,853.80 L114.89,853.80 L115.93,853.80 L116.98,853.80 L118.02,853.80 L119.06,853.80 L120.10,853.80 L121.15,853.80 L122.19,853.80 L123.23,853.80 L124.28,853.80 L125.32,853.80 L126.36,853.80 L127.40,853.80 L128.45,853.80 L129.49,853.80 L130.53,853.80 L131.57,853.80 L132.62,853.80 L133.66,853.80 L134.70,853.80 L135.75,853.80 L136.79,853.80 L137.83,853.80 L138.87,853.80 L139.92,853.80 L140.96,853.79 L142.00,853.79 L143.04,853.79 L144.09,853.79 L145.13,853.78 L146.17,853.77 L147.21,853.76 L148.26,853.75 L149.30,853.73 L150.34,853.71 L151.39,853.68 L152.43,853.64 L153.47,853.59 L154.51,853.53 L155.56,853.45 L156.60,853.35 L157.64,853.22 L158.68,853.06 L159.73,852.87 L160.77,852.63 L161.81,852.33 L162.85,851.97 L163.90,851.53 L164.94,851.00 L165.98,850.37 L167.03,849.63 L168.07,848.75 L169.11,847.71 L170.15,846.51 L171.20,845.12 L172.24,843.53 L173.28,841.71 L174.32,839.65 L175.37,837.33 L176.41,834.74 L177.45,831.87 L178.50,828.71 L179.54,825.25 L180.58,821.50 L181.62,817.47 L182.67,813.16 L183.71,808.60 L184.75,803.82 L185.79,798.84 L186.84,793.70 L187.88,788.46 L188.92,783.16 L189.96,777.87 L191.01,772.64 L192.05,767.54 L193.09,762.63 L194.14,758.00 L195.18,753.70 L196.22,749.79 L197.26,746.35 L198.31,743.42 L199.35,741.05 L200.39,739.28 L201.43,738.15 L202.48,737.66 L203.52,737.83 L204.56,738.65 L205.60,740.12 L206.65,742.20 L207.69,744.87 L208.73,748.07 L209.78,751.76 L210.82,755.88 L211.86,760.36 L212.90,765.14 L213.95,770.15 L214.99,775.33 L216.03,780.60 L217.07,785.91 L218.12,791.18 L219.16,796.38 L220.20,801.44 L221.25,806.32 L222.29,810.99 L223.33,815.42 L224.37,819.59 L225.42,823.48 L226.46,827.08 L227.50,830.38 L228.54,833.39 L229.59,836.12 L230.63,838.56 L231.67,840.75 L232.71,842.68 L233.76,844.38 L234.80,845.87 L235.84,847.16 L236.89,848.27 L237.93,849.22 L238.97,850.03 L240.01,850.71 L241.06,851.29 L242.10,851.77 L243.14,852.16 L244.18,852.49 L245.23,852.76 L246.27,852.97 L247.31,853.15 L248.35,853.29 L249.40,853.40 L250.44,853.49 L251.48,853.56 L252.53,853.62 L253.57,853.66 L254.61,853.70 L255.65,853.72 L256.70,853.74 L257.74,853.76 L258.78,853.77 L259.82,853.78 L260.87,853.78 L261.91,853.79 L262.95,853.79 L264.00,853.79 L265.04,853.80 L266.08,853.80 L267.12,853.80 L268.17,853.80 L269.21,853.80 L270.25,853.80 L271.29,853.80 L272.34,853.80 L273.38,853.80 L274.42,853.80 L275.46,853.80 L276.51,853.80 L277.55,853.80 L278.59,853.80 L279.64,853.80 L280.68,853.80 L281.72,853.80 L282.76,853.80 L283.81,853.80 L284.85,853.80 L285.89,853.80 L286.93,853.80 L287.98,853.80 L289.02,853.80 L290.06,853.80 L291.10,853.80 L292.15,853.80 L293.19,853.80 L294.23,853.80 L295.28,853.80 L296.32,853.80 L297.36,853.80 L298.40,853.80 L299.45,853.80 L300.49,853.80 L301.53,853.80 L302.57,853.80 L303.62,853.80 L304.66,853.80 L305.70,853.80 L306.75,853.80" fill="none" stroke="#000" stroke-width="2.6" stroke-linejoin="round"/>
<g transform="translate(167.07 897.50)"><text x="0.00" y="0.00" font-size="14.6" font-style="italic">H</text><text x="10.54" y="3.94" font-size="10.51">1</text><text x="16.39" y="0.00" font-size="14.6"> (nm)</text></g>
<text font-size="14.6" text-anchor="middle" transform="translate(24.6 787.3) rotate(-90)">Number of frames</text>
<g transform="translate(87.40 741.10)"><text x="0.00" y="0.00" font-size="10.6">Atg1</text></g>
<g transform="translate(87.40 753.75)"><text x="0.00" y="0.00" font-size="10.6">Kinase domain</text></g>
<g transform="translate(87.40 766.40)"><text x="0.00" y="0.00" font-size="10.6">50 mM NaCl</text></g>
<g transform="translate(87.40 779.05)"><text x="0.00" y="0.00" font-size="10.6">pH 8.0</text></g>
<g transform="translate(87.40 791.70)"><text x="0.00" y="0.00" font-size="10.6" font-style="italic">N</text><text x="7.66" y="0.00" font-size="10.6"> = 1,926</text></g>
<g transform="translate(87.40 804.35)"><text x="0.00" y="0.00" font-size="10.6">Mol = 3</text></g>
<g transform="translate(87.40 817.00)"><path d="M2.70,-7.84 L0.64,-3.02 L2.70,1.80" fill="none" stroke="#111" stroke-width="0.69"/><text x="3.18" y="0.00" font-size="10.6" font-style="italic">H</text><text x="10.84" y="2.86" font-size="7.63">1</text><path d="M15.56,-7.84 L17.62,-3.02 L15.56,1.80" fill="none" stroke="#111" stroke-width="0.69"/><text x="18.26" y="0.00" font-size="10.6"> = 3.3 nm</text></g>
<g transform="translate(87.40 829.65)"><text x="0.00" y="0.00" font-size="10.6">s.e.m. = 0.008 nm</text></g>
<text x="7.2" y="920.5" font-size="17.5" font-weight="bold" font-family="Liberation Serif">g</text>
<rect x="160.41" y="1055.26" width="7.91" height="3.94" fill="#fbc0cc" stroke="#8a8a8a" stroke-width="0.8" />
<rect x="168.32" y="1043.17" width="7.91" height="16.03" fill="#fbc0cc" stroke="#8a8a8a" stroke-width="0.8" />
<rect x="176.23" y="1024.25" width="7.91" height="34.95" fill="#fbc0cc" stroke="#8a8a8a" stroke-width="0.8" />
<rect x="184.14" y="994.03" width="7.91" height="65.17" fill="#fbc0cc" stroke="#8a8a8a" stroke-width="0.8" />
<rect x="192.05" y="946.20" width="7.91" height="113.00" fill="#fbc0cc" stroke="#8a8a8a" stroke-width="0.8" />
<rect x="199.96" y="943.31" width="7.91" height="115.89" fill="#fbc0cc" stroke="#8a8a8a" stroke-width="0.8" />
<rect x="207.87" y="970.37" width="7.91" height="88.83" fill="#fbc0cc" stroke="#8a8a8a" stroke-width="0.8" />
<rect x="215.78" y="1009.27" width="7.91" height="49.93" fill="#fbc0cc" stroke="#8a8a8a" stroke-width="0.8" />
<rect x="223.69" y="1046.32" width="7.91" height="12.88" fill="#fbc0cc" stroke="#8a8a8a" stroke-width="0.8" />
<rect x="231.60" y="1054.21" width="7.91" height="4.99" fill="#fbc0cc" stroke="#8a8a8a" stroke-width="0.8" />
<line x1="73.40" y1="927.80" x2="73.40" y2="1059.20" stroke="#444" stroke-width="1.0" />
<line x1="73.40" y1="1059.20" x2="310.70" y2="1059.20" stroke="#444" stroke-width="1.0" />
<line x1="69.80" y1="1059.20" x2="73.40" y2="1059.20" stroke="#444" stroke-width="1.0" />
<text x="61.8" y="1064.8" font-size="14.6" text-anchor="end" >0</text>
<line x1="69.80" y1="993.50" x2="73.40" y2="993.50" stroke="#444" stroke-width="1.0" />
<text x="61.8" y="999.1" font-size="14.6" text-anchor="end" >250</text>
<line x1="69.80" y1="927.80" x2="73.40" y2="927.80" stroke="#444" stroke-width="1.0" />
<text x="61.8" y="933.4" font-size="14.6" text-anchor="end" >500</text>
<line x1="73.40" y1="1059.20" x2="73.40" y2="1062.40" stroke="#444" stroke-width="1.0" />
<text x="73.4" y="1082.6" font-size="14.6" text-anchor="middle" >0</text>
<line x1="152.50" y1="1059.20" x2="152.50" y2="1062.40" stroke="#444" stroke-width="1.0" />
<text x="152.5" y="1082.6" font-size="14.6" text-anchor="middle" >2</text>
<line x1="231.60" y1="1059.20" x2="231.60" y2="1062.40" stroke="#444" stroke-width="1.0" />
<text x="231.6" y="1082.6" font-size="14.6" text-anchor="middle" >4</text>
<line x1="310.70" y1="1059.20" x2="310.70" y2="1062.40" stroke="#444" stroke-width="1.0" />
<text x="310.7" y="1082.6" font-size="14.6" text-anchor="middle" >6</text>
<path d="M77.36,1059.20 L78.40,1059.20 L79.44,1059.20 L80.48,1059.20 L81.53,1059.20 L82.57,1059.20 L83.61,1059.20 L84.65,1059.20 L85.70,1059.20 L86.74,1059.20 L87.78,1059.20 L88.82,1059.20 L89.87,1059.20 L90.91,1059.20 L91.95,1059.20 L93.00,1059.20 L94.04,1059.20 L95.08,1059.20 L96.12,1059.20 L97.17,1059.20 L98.21,1059.20 L99.25,1059.20 L100.29,1059.20 L101.34,1059.20 L102.38,1059.20 L103.42,1059.20 L104.46,1059.20 L105.51,1059.20 L106.55,1059.20 L107.59,1059.20 L108.64,1059.20 L109.68,1059.20 L110.72,1059.20 L111.76,1059.20 L112.81,1059.20 L113.85,1059.20 L114.89,1059.20 L115.93,1059.20 L116.98,1059.20 L118.02,1059.20 L119.06,1059.20 L120.10,1059.20 L121.15,1059.20 L122.19,1059.20 L123.23,1059.20 L124.28,1059.20 L125.32,1059.20 L126.36,1059.20 L127.40,1059.20 L128.45,1059.20 L129.49,1059.20 L130.53,1059.20 L131.57,1059.20 L132.62,1059.20 L133.66,1059.20 L134.70,1059.20 L135.75,1059.20 L136.79,1059.20 L137.83,1059.20 L138.87,1059.20 L139.92,1059.20 L140.96,1059.20 L142.00,1059.20 L143.04,1059.20 L144.09,1059.19 L145.13,1059.19 L146.17,1059.19 L147.21,1059.18 L148.26,1059.18 L149.30,1059.17 L150.34,1059.16 L151.39,1059.14 L152.43,1059.12 L153.47,1059.09 L154.51,1059.05 L155.56,1059.00 L156.60,1058.94 L157.64,1058.85 L158.68,1058.74 L159.73,1058.60 L160.77,1058.42 L161.81,1058.20 L162.85,1057.92 L163.90,1057.57 L164.94,1057.14 L165.98,1056.61 L167.03,1055.97 L168.07,1055.20 L169.11,1054.27 L170.15,1053.18 L171.20,1051.88 L172.24,1050.36 L173.28,1048.60 L174.32,1046.58 L175.37,1044.26 L176.41,1041.64 L177.45,1038.69 L178.50,1035.40 L179.54,1031.76 L180.58,1027.77 L181.62,1023.45 L182.67,1018.79 L183.71,1013.83 L184.75,1008.59 L185.79,1003.12 L186.84,997.46 L187.88,991.68 L188.92,985.84 L189.96,980.02 L191.01,974.30 L192.05,968.76 L193.09,963.50 L194.14,958.58 L195.18,954.12 L196.22,950.17 L197.26,946.82 L198.31,944.12 L199.35,942.13 L200.39,940.89 L201.43,940.42 L202.48,940.73 L203.52,941.81 L204.56,943.65 L205.60,946.20 L206.65,949.42 L207.69,953.25 L208.73,957.62 L209.78,962.45 L210.82,967.65 L211.86,973.14 L212.90,978.83 L213.95,984.63 L214.99,990.48 L216.03,996.27 L217.07,1001.96 L218.12,1007.48 L219.16,1012.77 L220.20,1017.79 L221.25,1022.51 L222.29,1026.91 L223.33,1030.96 L224.37,1034.67 L225.42,1038.03 L226.46,1041.05 L227.50,1043.74 L228.54,1046.12 L229.59,1048.21 L230.63,1050.02 L231.67,1051.59 L232.71,1052.92 L233.76,1054.06 L234.80,1055.02 L235.84,1055.82 L236.89,1056.49 L237.93,1057.04 L238.97,1057.49 L240.01,1057.85 L241.06,1058.15 L242.10,1058.38 L243.14,1058.57 L244.18,1058.72 L245.23,1058.83 L246.27,1058.92 L247.31,1058.99 L248.35,1059.04 L249.40,1059.08 L250.44,1059.11 L251.48,1059.14 L252.53,1059.15 L253.57,1059.17 L254.61,1059.18 L255.65,1059.18 L256.70,1059.19 L257.74,1059.19 L258.78,1059.19 L259.82,1059.20 L260.87,1059.20 L261.91,1059.20 L262.95,1059.20 L264.00,1059.20 L265.04,1059.20 L266.08,1059.20 L267.12,1059.20 L268.17,1059.20 L269.21,1059.20 L270.25,1059.20 L271.29,1059.20 L272.34,1059.20 L273.38,1059.20 L274.42,1059.20 L275.46,1059.20 L276.51,1059.20 L277.55,1059.20 L278.59,1059.20 L279.64,1059.20 L280.68,1059.20 L281.72,1059.20 L282.76,1059.20 L283.81,1059.20 L284.85,1059.20 L285.89,1059.20 L286.93,1059.20 L287.98,1059.20 L289.02,1059.20 L290.06,1059.20 L291.10,1059.20 L292.15,1059.20 L293.19,1059.20 L294.23,1059.20 L295.28,1059.20 L296.32,1059.20 L297.36,1059.20 L298.40,1059.20 L299.45,1059.20 L300.49,1059.20 L301.53,1059.20 L302.57,1059.20 L303.62,1059.20 L304.66,1059.20 L305.70,1059.20 L306.75,1059.20" fill="none" stroke="#ee0000" stroke-width="2.6" stroke-linejoin="round"/>
<g transform="translate(167.07 1105.40)"><text x="0.00" y="0.00" font-size="14.6" font-style="italic">H</text><text x="10.54" y="3.94" font-size="10.51">2</text><text x="16.39" y="0.00" font-size="14.6"> (nm)</text></g>
<text font-size="14.6" text-anchor="middle" transform="translate(24.6 993.5) rotate(-90)">Number of frames</text>
<g transform="translate(85.30 943.70)"><text x="0.00" y="0.00" font-size="10.6">Atg1</text></g>
<g transform="translate(85.30 956.35)"><text x="0.00" y="0.00" font-size="10.6">MIT1/MIT2</text></g>
<g transform="translate(85.30 969.00)"><text x="0.00" y="0.00" font-size="10.6">50 mM NaCl</text></g>
<g transform="translate(85.30 981.65)"><text x="0.00" y="0.00" font-size="10.6">pH 8.0</text></g>
<g transform="translate(85.30 994.30)"><text x="0.00" y="0.00" font-size="10.6" font-style="italic">N</text><text x="7.66" y="0.00" font-size="10.6"> = 1,926</text></g>
<g transform="translate(85.30 1006.95)"><text x="0.00" y="0.00" font-size="10.6">Mol = 3</text></g>
<g transform="translate(85.30 1019.60)"><path d="M2.70,-7.84 L0.64,-3.02 L2.70,1.80" fill="none" stroke="#111" stroke-width="0.69"/><text x="3.18" y="0.00" font-size="10.6" font-style="italic">H</text><text x="10.84" y="2.86" font-size="7.63">2</text><path d="M15.56,-7.84 L17.62,-3.02 L15.56,1.80" fill="none" stroke="#111" stroke-width="0.69"/><text x="18.26" y="0.00" font-size="10.6"> = 3.2 nm</text></g>
<g transform="translate(85.30 1032.25)"><text x="0.00" y="0.00" font-size="10.6">s.e.m. = 0.005 nm</text></g>
<text x="7.5" y="1133.5" font-size="16" font-weight="bold">h</text>
<rect x="85.24" y="1270.48" width="11.84" height="1.32" fill="#99d5ee" stroke="#5a7a88" stroke-width="0.8" />
<rect x="97.08" y="1261.28" width="11.84" height="10.52" fill="#99d5ee" stroke="#5a7a88" stroke-width="0.8" />
<rect x="108.92" y="1233.23" width="11.84" height="38.57" fill="#99d5ee" stroke="#5a7a88" stroke-width="0.8" />
<rect x="120.76" y="1210.87" width="11.84" height="60.93" fill="#99d5ee" stroke="#5a7a88" stroke-width="0.8" />
<rect x="132.60" y="1177.56" width="11.84" height="94.24" fill="#99d5ee" stroke="#5a7a88" stroke-width="0.8" />
<rect x="144.44" y="1163.09" width="11.84" height="108.71" fill="#99d5ee" stroke="#5a7a88" stroke-width="0.8" />
<rect x="156.28" y="1150.38" width="11.84" height="121.42" fill="#99d5ee" stroke="#5a7a88" stroke-width="0.8" />
<rect x="168.12" y="1170.11" width="11.84" height="101.69" fill="#99d5ee" stroke="#5a7a88" stroke-width="0.8" />
<rect x="179.96" y="1169.23" width="11.84" height="102.57" fill="#99d5ee" stroke="#5a7a88" stroke-width="0.8" />
<rect x="191.80" y="1191.59" width="11.84" height="80.21" fill="#99d5ee" stroke="#5a7a88" stroke-width="0.8" />
<rect x="203.64" y="1209.99" width="11.84" height="61.81" fill="#99d5ee" stroke="#5a7a88" stroke-width="0.8" />
<rect x="215.48" y="1232.79" width="11.84" height="39.01" fill="#99d5ee" stroke="#5a7a88" stroke-width="0.8" />
<rect x="227.32" y="1255.14" width="11.84" height="16.66" fill="#99d5ee" stroke="#5a7a88" stroke-width="0.8" />
<rect x="239.16" y="1266.98" width="11.84" height="4.82" fill="#99d5ee" stroke="#5a7a88" stroke-width="0.8" />
<rect x="251.00" y="1270.48" width="11.84" height="1.32" fill="#99d5ee" stroke="#5a7a88" stroke-width="0.8" />
<line x1="73.40" y1="1140.30" x2="73.40" y2="1271.80" stroke="#444" stroke-width="1.0" />
<line x1="73.40" y1="1271.80" x2="310.20" y2="1271.80" stroke="#444" stroke-width="1.0" />
<line x1="69.80" y1="1271.80" x2="73.40" y2="1271.80" stroke="#444" stroke-width="1.0" />
<text x="61.8" y="1277.4" font-size="14.6" text-anchor="end" >0</text>
<line x1="69.80" y1="1206.05" x2="73.40" y2="1206.05" stroke="#444" stroke-width="1.0" />
<text x="61.8" y="1211.6" font-size="14.6" text-anchor="end" >150</text>
<line x1="69.80" y1="1140.30" x2="73.40" y2="1140.30" stroke="#444" stroke-width="1.0" />
<text x="61.8" y="1145.9" font-size="14.6" text-anchor="end" >300</text>
<line x1="73.40" y1="1271.80" x2="73.40" y2="1275.00" stroke="#444" stroke-width="1.0" />
<text x="73.4" y="1295.1" font-size="14.6" text-anchor="middle" >0</text>
<line x1="132.60" y1="1271.80" x2="132.60" y2="1275.00" stroke="#444" stroke-width="1.0" />
<text x="132.6" y="1295.1" font-size="14.6" text-anchor="middle" >10</text>
<line x1="191.80" y1="1271.80" x2="191.80" y2="1275.00" stroke="#444" stroke-width="1.0" />
<text x="191.8" y="1295.1" font-size="14.6" text-anchor="middle" >20</text>
<line x1="251.00" y1="1271.80" x2="251.00" y2="1275.00" stroke="#444" stroke-width="1.0" />
<text x="251.0" y="1295.1" font-size="14.6" text-anchor="middle" >30</text>
<line x1="310.20" y1="1271.80" x2="310.20" y2="1275.00" stroke="#444" stroke-width="1.0" />
<text x="310.2" y="1295.1" font-size="14.6" text-anchor="middle" >40</text>
<path d="M79.32,1271.19 L80.34,1271.09 L81.37,1270.98 L82.39,1270.85 L83.41,1270.71 L84.43,1270.55 L85.46,1270.36 L86.48,1270.16 L87.50,1269.92 L88.52,1269.66 L89.55,1269.37 L90.57,1269.05 L91.59,1268.68 L92.61,1268.28 L93.64,1267.83 L94.66,1267.34 L95.68,1266.80 L96.70,1266.20 L97.73,1265.54 L98.75,1264.82 L99.77,1264.04 L100.79,1263.18 L101.82,1262.26 L102.84,1261.25 L103.86,1260.17 L104.88,1259.00 L105.91,1257.75 L106.93,1256.40 L107.95,1254.96 L108.97,1253.43 L110.00,1251.80 L111.02,1250.08 L112.04,1248.26 L113.06,1246.33 L114.09,1244.31 L115.11,1242.20 L116.13,1239.99 L117.15,1237.69 L118.18,1235.30 L119.20,1232.83 L120.22,1230.28 L121.24,1227.66 L122.27,1224.97 L123.29,1222.23 L124.31,1219.44 L125.33,1216.61 L126.36,1213.75 L127.38,1210.88 L128.40,1208.01 L129.42,1205.14 L130.45,1202.29 L131.47,1199.48 L132.49,1196.72 L133.51,1194.02 L134.54,1191.39 L135.56,1188.86 L136.58,1186.43 L137.61,1184.12 L138.63,1181.93 L139.65,1179.90 L140.67,1178.02 L141.70,1176.30 L142.72,1174.77 L143.74,1173.42 L144.76,1172.27 L145.79,1171.32 L146.81,1170.59 L147.83,1170.06 L148.85,1169.76 L149.88,1169.67 L150.90,1169.80 L151.92,1170.16 L152.94,1170.72 L153.97,1171.51 L154.99,1172.50 L156.01,1173.69 L157.03,1175.08 L158.06,1176.65 L159.08,1178.40 L160.10,1180.31 L161.12,1182.38 L162.15,1184.59 L163.17,1186.93 L164.19,1189.38 L165.21,1191.94 L166.24,1194.58 L167.26,1197.30 L168.28,1200.07 L169.30,1202.89 L170.33,1205.74 L171.35,1208.61 L172.37,1211.49 L173.39,1214.36 L174.42,1217.21 L175.44,1220.03 L176.46,1222.81 L177.48,1225.54 L178.51,1228.21 L179.53,1230.82 L180.55,1233.35 L181.57,1235.81 L182.60,1238.18 L183.62,1240.46 L184.64,1242.65 L185.66,1244.75 L186.69,1246.75 L187.71,1248.65 L188.73,1250.45 L189.75,1252.16 L190.78,1253.76 L191.80,1255.27 L192.82,1256.69 L193.85,1258.02 L194.87,1259.26 L195.89,1260.41 L196.91,1261.47 L197.94,1262.46 L198.96,1263.37 L199.98,1264.21 L201.00,1264.98 L202.03,1265.68 L203.05,1266.33 L204.07,1266.91 L205.09,1267.45 L206.12,1267.93 L207.14,1268.37 L208.16,1268.76 L209.18,1269.12 L210.21,1269.44 L211.23,1269.72 L212.25,1269.98 L213.27,1270.20 L214.30,1270.40 L215.32,1270.58 L216.34,1270.74 L217.36,1270.88 L218.39,1271.00 L219.41,1271.11 L220.43,1271.21 L221.45,1271.29 L222.48,1271.36 L223.50,1271.42 L224.52,1271.48 L225.54,1271.53 L226.57,1271.57 L227.59,1271.60 L228.61,1271.63 L229.63,1271.66 L230.66,1271.68 L231.68,1271.70 L232.70,1271.71 L233.72,1271.73 L234.75,1271.74 L235.77,1271.75 L236.79,1271.76 L237.81,1271.77 L238.84,1271.77 L239.86,1271.78 L240.88,1271.78 L241.90,1271.78 L242.93,1271.79 L243.95,1271.79 L244.97,1271.79 L245.99,1271.79 L247.02,1271.79 L248.04,1271.80 L249.06,1271.80 L250.09,1271.80 L251.11,1271.80 L252.13,1271.80 L253.15,1271.80 L254.18,1271.80 L255.20,1271.80 L256.22,1271.80 L257.24,1271.80 L258.27,1271.80 L259.29,1271.80 L260.31,1271.80 L261.33,1271.80 L262.36,1271.80 L263.38,1271.80 L264.40,1271.80 L265.42,1271.80 L266.45,1271.80 L267.47,1271.80 L268.49,1271.80 L269.51,1271.80 L270.54,1271.80 L271.56,1271.80 L272.58,1271.80 L273.60,1271.80 L274.63,1271.80 L275.65,1271.80 L276.67,1271.80 L277.69,1271.80 L278.72,1271.80 L279.74,1271.80 L280.76,1271.80 L281.78,1271.80 L282.81,1271.80 L283.83,1271.80 L284.85,1271.80 L285.87,1271.80 L286.90,1271.80 L287.92,1271.80 L288.94,1271.80 L289.96,1271.80 L290.99,1271.80 L292.01,1271.80 L293.03,1271.80 L294.05,1271.80 L295.08,1271.80 L296.10,1271.80 L297.12,1271.80 L298.14,1271.80 L299.17,1271.80 L300.19,1271.80 L301.21,1271.80 L302.23,1271.80 L303.26,1271.80 L304.28,1271.80" fill="none" stroke="#000" stroke-width="1.5" stroke-linejoin="round"/>
<path d="M79.32,1271.80 L80.34,1271.80 L81.37,1271.80 L82.39,1271.80 L83.41,1271.80 L84.43,1271.80 L85.46,1271.80 L86.48,1271.80 L87.50,1271.80 L88.52,1271.80 L89.55,1271.80 L90.57,1271.80 L91.59,1271.80 L92.61,1271.80 L93.64,1271.79 L94.66,1271.79 L95.68,1271.79 L96.70,1271.79 L97.73,1271.79 L98.75,1271.79 L99.77,1271.78 L100.79,1271.78 L101.82,1271.78 L102.84,1271.77 L103.86,1271.77 L104.88,1271.76 L105.91,1271.75 L106.93,1271.74 L107.95,1271.73 L108.97,1271.72 L110.00,1271.71 L111.02,1271.69 L112.04,1271.68 L113.06,1271.65 L114.09,1271.63 L115.11,1271.60 L116.13,1271.57 L117.15,1271.53 L118.18,1271.49 L119.20,1271.44 L120.22,1271.39 L121.24,1271.32 L122.27,1271.25 L123.29,1271.17 L124.31,1271.08 L125.33,1270.98 L126.36,1270.87 L127.38,1270.74 L128.40,1270.59 L129.42,1270.43 L130.45,1270.25 L131.47,1270.05 L132.49,1269.83 L133.51,1269.59 L134.54,1269.32 L135.56,1269.02 L136.58,1268.69 L137.61,1268.33 L138.63,1267.94 L139.65,1267.51 L140.67,1267.04 L141.70,1266.53 L142.72,1265.98 L143.74,1265.38 L144.76,1264.74 L145.79,1264.04 L146.81,1263.30 L147.83,1262.50 L148.85,1261.64 L149.88,1260.73 L150.90,1259.76 L151.92,1258.73 L152.94,1257.65 L153.97,1256.50 L154.99,1255.28 L156.01,1254.01 L157.03,1252.68 L158.06,1251.29 L159.08,1249.84 L160.10,1248.33 L161.12,1246.77 L162.15,1245.16 L163.17,1243.50 L164.19,1241.80 L165.21,1240.05 L166.24,1238.27 L167.26,1236.46 L168.28,1234.63 L169.30,1232.77 L170.33,1230.91 L171.35,1229.04 L172.37,1227.17 L173.39,1225.31 L174.42,1223.46 L175.44,1221.65 L176.46,1219.86 L177.48,1218.12 L178.51,1216.43 L179.53,1214.80 L180.55,1213.23 L181.57,1211.74 L182.60,1210.33 L183.62,1209.01 L184.64,1207.79 L185.66,1206.68 L186.69,1205.67 L187.71,1204.78 L188.73,1204.01 L189.75,1203.37 L190.78,1202.85 L191.80,1202.47 L192.82,1202.22 L193.85,1202.11 L194.87,1202.14 L195.89,1202.30 L196.91,1202.60 L197.94,1203.03 L198.96,1203.59 L199.98,1204.28 L201.00,1205.09 L202.03,1206.03 L203.05,1207.07 L204.07,1208.23 L205.09,1209.49 L206.12,1210.84 L207.14,1212.28 L208.16,1213.80 L209.18,1215.39 L210.21,1217.05 L211.23,1218.76 L212.25,1220.51 L213.27,1222.31 L214.30,1224.14 L215.32,1225.99 L216.34,1227.85 L217.36,1229.72 L218.39,1231.60 L219.41,1233.46 L220.43,1235.31 L221.45,1237.13 L222.48,1238.93 L223.50,1240.70 L224.52,1242.43 L225.54,1244.12 L226.57,1245.76 L227.59,1247.36 L228.61,1248.90 L229.63,1250.38 L230.66,1251.81 L231.68,1253.18 L232.70,1254.49 L233.72,1255.74 L234.75,1256.93 L235.77,1258.05 L236.79,1259.12 L237.81,1260.13 L238.84,1261.08 L239.86,1261.97 L240.88,1262.80 L241.90,1263.58 L242.93,1264.31 L243.95,1264.98 L244.97,1265.61 L245.99,1266.19 L247.02,1266.73 L248.04,1267.22 L249.06,1267.67 L250.09,1268.09 L251.11,1268.47 L252.13,1268.82 L253.15,1269.13 L254.18,1269.42 L255.20,1269.68 L256.22,1269.92 L257.24,1270.13 L258.27,1270.32 L259.29,1270.49 L260.31,1270.65 L261.33,1270.79 L262.36,1270.91 L263.38,1271.02 L264.40,1271.12 L265.42,1271.20 L266.45,1271.28 L267.47,1271.35 L268.49,1271.41 L269.51,1271.46 L270.54,1271.51 L271.56,1271.55 L272.58,1271.58 L273.60,1271.61 L274.63,1271.64 L275.65,1271.66 L276.67,1271.68 L277.69,1271.70 L278.72,1271.71 L279.74,1271.73 L280.76,1271.74 L281.78,1271.75 L282.81,1271.76 L283.83,1271.76 L284.85,1271.77 L285.87,1271.77 L286.90,1271.78 L287.92,1271.78 L288.94,1271.78 L289.96,1271.79 L290.99,1271.79 L292.01,1271.79 L293.03,1271.79 L294.05,1271.79 L295.08,1271.80 L296.10,1271.80 L297.12,1271.80 L298.14,1271.80 L299.17,1271.80 L300.19,1271.80 L301.21,1271.80 L302.23,1271.80 L303.26,1271.80 L304.28,1271.80" fill="none" stroke="#000" stroke-width="1.5" stroke-linejoin="round"/>
<path d="M80.50,1271.07 L81.52,1270.96 L82.53,1270.83 L83.54,1270.69 L84.55,1270.53 L85.56,1270.34 L86.57,1270.13 L87.59,1269.90 L88.60,1269.64 L89.61,1269.35 L90.62,1269.02 L91.63,1268.66 L92.65,1268.26 L93.66,1267.82 L94.67,1267.33 L95.68,1266.79 L96.69,1266.19 L97.70,1265.54 L98.72,1264.83 L99.73,1264.06 L100.74,1263.21 L101.75,1262.30 L102.76,1261.30 L103.77,1260.23 L104.79,1259.08 L105.80,1257.84 L106.81,1256.51 L107.82,1255.09 L108.83,1253.57 L109.85,1251.96 L110.86,1250.25 L111.87,1248.45 L112.88,1246.54 L113.89,1244.54 L114.90,1242.44 L115.92,1240.24 L116.93,1237.94 L117.94,1235.56 L118.95,1233.09 L119.96,1230.53 L120.98,1227.89 L121.99,1225.18 L123.00,1222.41 L124.01,1219.58 L125.02,1216.69 L126.03,1213.76 L127.05,1210.80 L128.06,1207.82 L129.07,1204.83 L130.08,1201.83 L131.09,1198.84 L132.10,1195.88 L133.12,1192.95 L134.13,1190.06 L135.14,1187.23 L136.15,1184.47 L137.16,1181.79 L138.18,1179.20 L139.19,1176.71 L140.20,1174.33 L141.21,1172.07 L142.22,1169.94 L143.23,1167.95 L144.25,1166.10 L145.26,1164.40 L146.27,1162.85 L147.28,1161.45 L148.29,1160.22 L149.31,1159.14 L150.32,1158.22 L151.33,1157.46 L152.34,1156.86 L153.35,1156.40 L154.36,1156.10 L155.38,1155.94 L156.39,1155.91 L157.40,1156.01 L158.41,1156.23 L159.42,1156.57 L160.43,1157.00 L161.45,1157.54 L162.46,1158.15 L163.47,1158.85 L164.48,1159.61 L165.49,1160.42 L166.51,1161.29 L167.52,1162.19 L168.53,1163.13 L169.54,1164.09 L170.55,1165.07 L171.56,1166.06 L172.58,1167.06 L173.59,1168.05 L174.60,1169.05 L175.61,1170.04 L176.62,1171.03 L177.64,1172.00 L178.65,1172.97 L179.66,1173.94 L180.67,1174.89 L181.68,1175.85 L182.69,1176.80 L183.71,1177.75 L184.72,1178.71 L185.73,1179.68 L186.74,1180.67 L187.75,1181.67 L188.76,1182.69 L189.78,1183.74 L190.79,1184.83 L191.80,1185.95 L192.81,1187.10 L193.82,1188.30 L194.84,1189.55 L195.85,1190.85 L196.86,1192.19 L197.87,1193.60 L198.88,1195.05 L199.89,1196.56 L200.91,1198.12 L201.92,1199.74 L202.93,1201.40 L203.94,1203.12 L204.95,1204.89 L205.96,1206.70 L206.98,1208.55 L207.99,1210.44 L209.00,1212.36 L210.01,1214.31 L211.02,1216.28 L212.04,1218.26 L213.05,1220.27 L214.06,1222.27 L215.07,1224.28 L216.08,1226.28 L217.09,1228.28 L218.11,1230.26 L219.12,1232.21 L220.13,1234.14 L221.14,1236.04 L222.15,1237.91 L223.17,1239.73 L224.18,1241.51 L225.19,1243.25 L226.20,1244.93 L227.21,1246.56 L228.22,1248.14 L229.24,1249.66 L230.25,1251.12 L231.26,1252.52 L232.27,1253.85 L233.28,1255.13 L234.29,1256.34 L235.31,1257.50 L236.32,1258.59 L237.33,1259.62 L238.34,1260.59 L239.35,1261.51 L240.37,1262.36 L241.38,1263.17 L242.39,1263.92 L243.40,1264.61 L244.41,1265.26 L245.42,1265.86 L246.44,1266.42 L247.45,1266.93 L248.46,1267.41 L249.47,1267.84 L250.48,1268.24 L251.50,1268.60 L252.51,1268.94 L253.52,1269.24 L254.53,1269.51 L255.54,1269.76 L256.55,1269.99 L257.57,1270.19 L258.58,1270.38 L259.59,1270.54 L260.60,1270.69 L261.61,1270.82 L262.62,1270.94 L263.64,1271.05 L264.65,1271.14 L265.66,1271.22 L266.67,1271.30 L267.68,1271.36 L268.70,1271.42 L269.71,1271.47 L270.72,1271.51 L271.73,1271.55 L272.74,1271.59 L273.75,1271.62 L274.77,1271.64 L275.78,1271.67 L276.79,1271.68 L277.80,1271.70 L278.81,1271.72 L279.83,1271.73 L280.84,1271.74 L281.85,1271.75 L282.86,1271.76 L283.87,1271.76 L284.88,1271.77 L285.90,1271.77 L286.91,1271.78 L287.92,1271.78 L288.93,1271.78 L289.94,1271.79 L290.95,1271.79 L291.97,1271.79 L292.98,1271.79 L293.99,1271.79 L295.00,1271.79 L296.01,1271.80 L297.03,1271.80 L298.04,1271.80 L299.05,1271.80 L300.06,1271.80 L301.07,1271.80 L302.08,1271.80 L303.10,1271.80" fill="none" stroke="#0a14ff" stroke-width="2.6" stroke-linejoin="round"/>
<g transform="translate(163.28 1318.50)"><text x="0.00" y="0.00" font-size="14.6" font-style="italic">R</text><text x="10.54" y="3.94" font-size="10.51">2D</text><text x="23.98" y="0.00" font-size="14.6"> (nm)</text></g>
<text font-size="14.6" text-anchor="middle" transform="translate(24.6 1205.8) rotate(-90)">Number of frames</text>
<g transform="translate(298.79 1140.60)"><text x="0.00" y="0.00" font-size="10.6">Atg1</text></g>
<g transform="translate(224.58 1153.25)"><text x="0.00" y="0.00" font-size="10.6">50 mM NaCl, pH 8.0</text></g>
<g transform="translate(233.39 1165.90)"><text x="0.00" y="0.00" font-size="10.6" font-style="italic">N</text><text x="7.66" y="0.00" font-size="10.6"> = 1,926, Mol = 3</text></g>
<g transform="translate(226.42 1178.55)"><text x="0.00" y="0.00" font-size="10.6">1st: </text><path d="M22.73,-7.84 L20.67,-3.02 L22.73,1.80" fill="none" stroke="#111" stroke-width="0.69"/><text x="23.21" y="0.00" font-size="10.6" font-style="italic">R</text><text x="30.87" y="2.86" font-size="7.63">2D</text><path d="M41.10,-7.84 L43.17,-3.02 L41.10,1.80" fill="none" stroke="#111" stroke-width="0.69"/><text x="43.80" y="0.00" font-size="10.6"> = 13.0 nm</text></g>
<g transform="translate(241.36 1191.20)"><text x="0.00" y="0.00" font-size="10.6">s.e.m. = 1.04 nm</text></g>
<g transform="translate(222.87 1203.85)"><text x="0.00" y="0.00" font-size="10.6">2nd: </text><path d="M26.28,-7.84 L24.21,-3.02 L26.28,1.80" fill="none" stroke="#111" stroke-width="0.69"/><text x="26.76" y="0.00" font-size="10.6" font-style="italic">R</text><text x="34.41" y="2.86" font-size="7.63">2D</text><path d="M44.64,-7.84 L46.71,-3.02 L44.64,1.80" fill="none" stroke="#111" stroke-width="0.69"/><text x="47.35" y="0.00" font-size="10.6"> = 20.5 nm</text></g>
<g transform="translate(241.36 1216.50)"><text x="0.00" y="0.00" font-size="10.6">s.e.m. = 1.42 nm</text></g>
<g transform="translate(247.84 1229.15)"><text x="0.00" y="0.00" font-size="10.6" font-style="italic">F</text><text x="6.48" y="0.00" font-size="10.6">-test: </text><text x="32.98" y="0.00" font-size="10.6" font-style="italic">P</text><text x="40.05" y="0.00" font-size="10.6"> &lt; 0.05</text></g>
<text x="345.5" y="717.0" font-size="16" font-weight="bold">j</text>
<rect x="522.05" y="849.18" width="11.85" height="4.62" fill="#dcdcdc" stroke="#8a8a8a" stroke-width="0.8" />
<rect x="533.90" y="834.00" width="11.85" height="19.80" fill="#dcdcdc" stroke="#8a8a8a" stroke-width="0.8" />
<rect x="545.75" y="773.50" width="11.85" height="80.30" fill="#dcdcdc" stroke="#8a8a8a" stroke-width="0.8" />
<rect x="557.60" y="723.12" width="11.85" height="130.68" fill="#dcdcdc" stroke="#8a8a8a" stroke-width="0.8" />
<rect x="569.45" y="754.25" width="11.85" height="99.55" fill="#dcdcdc" stroke="#8a8a8a" stroke-width="0.8" />
<rect x="581.30" y="807.05" width="11.85" height="46.75" fill="#dcdcdc" stroke="#8a8a8a" stroke-width="0.8" />
<rect x="593.15" y="837.30" width="11.85" height="16.50" fill="#dcdcdc" stroke="#8a8a8a" stroke-width="0.8" />
<rect x="605.00" y="848.30" width="11.85" height="5.50" fill="#dcdcdc" stroke="#8a8a8a" stroke-width="0.8" />
<rect x="616.85" y="852.70" width="11.85" height="1.10" fill="#dcdcdc" stroke="#8a8a8a" stroke-width="0.8" />
<line x1="415.40" y1="721.80" x2="415.40" y2="853.80" stroke="#444" stroke-width="1.0" />
<line x1="415.40" y1="853.80" x2="652.40" y2="853.80" stroke="#444" stroke-width="1.0" />
<line x1="411.80" y1="853.80" x2="415.40" y2="853.80" stroke="#444" stroke-width="1.0" />
<text x="403.2" y="859.4" font-size="14.6" text-anchor="end" >0</text>
<line x1="411.80" y1="787.80" x2="415.40" y2="787.80" stroke="#444" stroke-width="1.0" />
<text x="403.2" y="793.4" font-size="14.6" text-anchor="end" >600</text>
<line x1="411.80" y1="721.80" x2="415.40" y2="721.80" stroke="#444" stroke-width="1.0" />
<text x="403.2" y="727.4" font-size="14.6" text-anchor="end" >1,200</text>
<line x1="415.40" y1="853.80" x2="415.40" y2="857.00" stroke="#444" stroke-width="1.0" />
<text x="415.4" y="876.9" font-size="14.6" text-anchor="middle" >0</text>
<line x1="474.65" y1="853.80" x2="474.65" y2="857.00" stroke="#444" stroke-width="1.0" />
<text x="474.6" y="876.9" font-size="14.6" text-anchor="middle" >1</text>
<line x1="533.90" y1="853.80" x2="533.90" y2="857.00" stroke="#444" stroke-width="1.0" />
<text x="533.9" y="876.9" font-size="14.6" text-anchor="middle" >2</text>
<line x1="593.15" y1="853.80" x2="593.15" y2="857.00" stroke="#444" stroke-width="1.0" />
<text x="593.1" y="876.9" font-size="14.6" text-anchor="middle" >3</text>
<line x1="652.40" y1="853.80" x2="652.40" y2="857.00" stroke="#444" stroke-width="1.0" />
<text x="652.4" y="876.9" font-size="14.6" text-anchor="middle" >4</text>
<path d="M421.32,853.80 L422.35,853.80 L423.37,853.80 L424.40,853.80 L425.42,853.80 L426.44,853.80 L427.47,853.80 L428.49,853.80 L429.51,853.80 L430.54,853.80 L431.56,853.80 L432.58,853.80 L433.61,853.80 L434.63,853.80 L435.65,853.80 L436.68,853.80 L437.70,853.80 L438.72,853.80 L439.75,853.80 L440.77,853.80 L441.79,853.80 L442.82,853.80 L443.84,853.80 L444.86,853.80 L445.89,853.80 L446.91,853.80 L447.93,853.80 L448.96,853.80 L449.98,853.80 L451.00,853.80 L452.03,853.80 L453.05,853.80 L454.07,853.80 L455.10,853.80 L456.12,853.80 L457.14,853.80 L458.17,853.80 L459.19,853.80 L460.21,853.80 L461.24,853.80 L462.26,853.80 L463.28,853.80 L464.31,853.80 L465.33,853.80 L466.35,853.80 L467.38,853.80 L468.40,853.80 L469.43,853.80 L470.45,853.80 L471.47,853.80 L472.50,853.80 L473.52,853.80 L474.54,853.80 L475.57,853.80 L476.59,853.80 L477.61,853.80 L478.64,853.80 L479.66,853.80 L480.68,853.80 L481.71,853.80 L482.73,853.80 L483.75,853.80 L484.78,853.80 L485.80,853.80 L486.82,853.80 L487.85,853.80 L488.87,853.80 L489.89,853.80 L490.92,853.80 L491.94,853.80 L492.96,853.80 L493.99,853.80 L495.01,853.80 L496.03,853.80 L497.06,853.80 L498.08,853.80 L499.10,853.80 L500.13,853.80 L501.15,853.80 L502.17,853.80 L503.20,853.80 L504.22,853.80 L505.24,853.80 L506.27,853.79 L507.29,853.79 L508.31,853.79 L509.34,853.79 L510.36,853.78 L511.38,853.77 L512.41,853.76 L513.43,853.75 L514.46,853.73 L515.48,853.71 L516.50,853.68 L517.53,853.64 L518.55,853.58 L519.57,853.52 L520.60,853.43 L521.62,853.32 L522.64,853.18 L523.67,853.01 L524.69,852.79 L525.71,852.52 L526.74,852.19 L527.76,851.79 L528.78,851.30 L529.81,850.70 L530.83,849.99 L531.85,849.15 L532.88,848.15 L533.90,846.97 L534.92,845.60 L535.95,844.01 L536.97,842.18 L537.99,840.09 L539.02,837.72 L540.04,835.05 L541.06,832.07 L542.09,828.76 L543.11,825.12 L544.13,821.14 L545.16,816.83 L546.18,812.19 L547.20,807.24 L548.23,802.02 L549.25,796.54 L550.27,790.86 L551.30,785.02 L552.32,779.08 L553.34,773.11 L554.37,767.17 L555.39,761.34 L556.41,755.70 L557.44,750.32 L558.46,745.29 L559.49,740.69 L560.51,736.58 L561.53,733.04 L562.56,730.12 L563.58,727.87 L564.60,726.34 L565.63,725.55 L566.65,725.51 L567.67,726.22 L568.70,727.68 L569.72,729.85 L570.74,732.70 L571.77,736.18 L572.79,740.23 L573.81,744.78 L574.84,749.77 L575.86,755.12 L576.88,760.73 L577.91,766.55 L578.93,772.48 L579.95,778.46 L580.98,784.40 L582.00,790.25 L583.02,795.95 L584.05,801.45 L585.07,806.71 L586.09,811.68 L587.12,816.35 L588.14,820.70 L589.16,824.72 L590.19,828.40 L591.21,831.74 L592.23,834.76 L593.26,837.46 L594.28,839.86 L595.30,841.97 L596.33,843.83 L597.35,845.44 L598.37,846.84 L599.40,848.03 L600.42,849.05 L601.44,849.91 L602.47,850.63 L603.49,851.24 L604.52,851.74 L605.54,852.15 L606.56,852.49 L607.59,852.77 L608.61,852.99 L609.63,853.17 L610.66,853.31 L611.68,853.42 L612.70,853.51 L613.73,853.58 L614.75,853.63 L615.77,853.67 L616.80,853.70 L617.82,853.73 L618.84,853.75 L619.87,853.76 L620.89,853.77 L621.91,853.78 L622.94,853.79 L623.96,853.79 L624.98,853.79 L626.01,853.79 L627.03,853.80 L628.05,853.80 L629.08,853.80 L630.10,853.80 L631.12,853.80 L632.15,853.80 L633.17,853.80 L634.19,853.80 L635.22,853.80 L636.24,853.80 L637.26,853.80 L638.29,853.80 L639.31,853.80 L640.33,853.80 L641.36,853.80 L642.38,853.80 L643.40,853.80 L644.43,853.80 L645.45,853.80 L646.47,853.80" fill="none" stroke="#000" stroke-width="2.6" stroke-linejoin="round"/>
<g transform="translate(508.57 897.50)"><text x="0.00" y="0.00" font-size="14.6" font-style="italic">H</text><text x="10.54" y="3.94" font-size="10.51">1</text><text x="16.39" y="0.00" font-size="14.6"> (nm)</text></g>
<text font-size="14.6" text-anchor="middle" transform="translate(355.6 787.3) rotate(-90)">Number of frames</text>
<g transform="translate(435.70 741.10)"><text x="0.00" y="0.00" font-size="10.6">Atg13</text></g>
<g transform="translate(435.70 753.75)"><text x="0.00" y="0.00" font-size="10.6">HORMA</text></g>
<g transform="translate(435.70 766.40)"><text x="0.00" y="0.00" font-size="10.6">100 mM NaCl</text></g>
<g transform="translate(435.70 779.05)"><text x="0.00" y="0.00" font-size="10.6">pH 7.0</text></g>
<g transform="translate(435.70 791.70)"><text x="0.00" y="0.00" font-size="10.6" font-style="italic">N</text><text x="7.66" y="0.00" font-size="10.6"> = 3,674</text></g>
<g transform="translate(435.70 804.35)"><text x="0.00" y="0.00" font-size="10.6">Mol = 3</text></g>
<g transform="translate(435.70 817.00)"><path d="M2.70,-7.84 L0.64,-3.02 L2.70,1.80" fill="none" stroke="#111" stroke-width="0.69"/><text x="3.18" y="0.00" font-size="10.6" font-style="italic">H</text><text x="10.84" y="2.86" font-size="7.63">1</text><path d="M15.56,-7.84 L17.62,-3.02 L15.56,1.80" fill="none" stroke="#111" stroke-width="0.69"/><text x="18.26" y="0.00" font-size="10.6"> = 2.5 nm</text></g>
<g transform="translate(435.70 829.65)"><text x="0.00" y="0.00" font-size="10.6">s.e.m. = 0.005 nm</text></g>
<text x="345.5" y="921.0" font-size="16" font-weight="bold">k</text>
<rect x="415.40" y="1057.56" width="11.85" height="1.64" fill="#f4e36c" stroke="#8a8a60" stroke-width="0.8" />
<rect x="427.25" y="1013.05" width="11.85" height="46.15" fill="#f4e36c" stroke="#8a8a60" stroke-width="0.8" />
<rect x="439.10" y="931.91" width="11.85" height="127.29" fill="#f4e36c" stroke="#8a8a60" stroke-width="0.8" />
<rect x="450.95" y="984.71" width="11.85" height="74.49" fill="#f4e36c" stroke="#8a8a60" stroke-width="0.8" />
<rect x="462.80" y="1038.59" width="11.85" height="20.61" fill="#f4e36c" stroke="#8a8a60" stroke-width="0.8" />
<rect x="474.65" y="1054.77" width="11.85" height="4.43" fill="#f4e36c" stroke="#8a8a60" stroke-width="0.8" />
<rect x="486.50" y="1058.38" width="11.85" height="0.82" fill="#f4e36c" stroke="#8a8a60" stroke-width="0.8" />
<rect x="498.35" y="1058.79" width="11.85" height="0.41" fill="#f4e36c" stroke="#8a8a60" stroke-width="0.8" />
<line x1="415.40" y1="927.80" x2="415.40" y2="1059.20" stroke="#444" stroke-width="1.0" />
<line x1="415.40" y1="1059.20" x2="652.40" y2="1059.20" stroke="#444" stroke-width="1.0" />
<line x1="411.80" y1="1059.20" x2="415.40" y2="1059.20" stroke="#444" stroke-width="1.0" />
<text x="403.2" y="1064.8" font-size="14.6" text-anchor="end" >0</text>
<line x1="411.80" y1="993.50" x2="415.40" y2="993.50" stroke="#444" stroke-width="1.0" />
<text x="403.2" y="999.1" font-size="14.6" text-anchor="end" >800</text>
<line x1="411.80" y1="927.80" x2="415.40" y2="927.80" stroke="#444" stroke-width="1.0" />
<text x="403.2" y="933.4" font-size="14.6" text-anchor="end" >1,600</text>
<line x1="415.40" y1="1059.20" x2="415.40" y2="1062.40" stroke="#444" stroke-width="1.0" />
<text x="415.4" y="1082.6" font-size="14.6" text-anchor="middle" >0</text>
<line x1="474.65" y1="1059.20" x2="474.65" y2="1062.40" stroke="#444" stroke-width="1.0" />
<text x="474.6" y="1082.6" font-size="14.6" text-anchor="middle" >1</text>
<line x1="533.90" y1="1059.20" x2="533.90" y2="1062.40" stroke="#444" stroke-width="1.0" />
<text x="533.9" y="1082.6" font-size="14.6" text-anchor="middle" >2</text>
<line x1="593.15" y1="1059.20" x2="593.15" y2="1062.40" stroke="#444" stroke-width="1.0" />
<text x="593.1" y="1082.6" font-size="14.6" text-anchor="middle" >3</text>
<line x1="652.40" y1="1059.20" x2="652.40" y2="1062.40" stroke="#444" stroke-width="1.0" />
<text x="652.4" y="1082.6" font-size="14.6" text-anchor="middle" >4</text>
<path d="M421.32,1054.68 L421.76,1054.17 L422.19,1053.61 L422.62,1053.00 L423.05,1052.33 L423.48,1051.61 L423.91,1050.82 L424.34,1049.97 L424.77,1049.05 L425.20,1048.06 L425.63,1046.99 L426.06,1045.84 L426.50,1044.61 L426.93,1043.30 L427.36,1041.90 L427.79,1040.40 L428.22,1038.82 L428.65,1037.14 L429.08,1035.36 L429.51,1033.48 L429.94,1031.51 L430.37,1029.43 L430.80,1027.25 L431.24,1024.98 L431.67,1022.61 L432.10,1020.14 L432.53,1017.57 L432.96,1014.92 L433.39,1012.18 L433.82,1009.36 L434.25,1006.46 L434.68,1003.49 L435.11,1000.45 L435.54,997.36 L435.98,994.21 L436.41,991.03 L436.84,987.81 L437.27,984.58 L437.70,981.33 L438.13,978.09 L438.56,974.85 L438.99,971.64 L439.42,968.47 L439.85,965.35 L440.28,962.29 L440.72,959.30 L441.15,956.40 L441.58,953.60 L442.01,950.92 L442.44,948.36 L442.87,945.93 L443.30,943.66 L443.73,941.55 L444.16,939.60 L444.59,937.84 L445.02,936.27 L445.46,934.89 L445.89,933.72 L446.32,932.75 L446.75,932.01 L447.18,931.48 L447.61,931.17 L448.04,931.09 L448.47,931.23 L448.90,931.59 L449.33,932.17 L449.76,932.98 L450.20,933.99 L450.63,935.22 L451.06,936.64 L451.49,938.26 L451.92,940.07 L452.35,942.06 L452.78,944.21 L453.21,946.52 L453.64,948.98 L454.07,951.58 L454.50,954.29 L454.94,957.12 L455.37,960.04 L455.80,963.04 L456.23,966.12 L456.66,969.26 L457.09,972.44 L457.52,975.66 L457.95,978.90 L458.38,982.14 L458.81,985.39 L459.24,988.62 L459.68,991.83 L460.11,995.00 L460.54,998.13 L460.97,1001.21 L461.40,1004.23 L461.83,1007.19 L462.26,1010.07 L462.69,1012.87 L463.12,1015.59 L463.55,1018.22 L463.98,1020.76 L464.42,1023.21 L464.85,1025.56 L465.28,1027.81 L465.71,1029.96 L466.14,1032.01 L466.57,1033.96 L467.00,1035.81 L467.43,1037.57 L467.86,1039.22 L468.29,1040.79 L468.72,1042.26 L469.16,1043.64 L469.59,1044.93 L470.02,1046.14 L470.45,1047.26 L470.88,1048.31 L471.31,1049.29 L471.74,1050.19 L472.17,1051.02 L472.60,1051.79 L473.03,1052.50 L473.46,1053.15 L473.90,1053.75 L474.33,1054.30 L474.76,1054.80 L475.19,1055.26 L475.62,1055.67 L476.05,1056.05 L476.48,1056.39 L476.91,1056.70 L477.34,1056.98 L477.77,1057.23 L478.20,1057.45 L478.64,1057.66 L479.07,1057.84 L479.50,1058.00 L479.93,1058.15 L480.36,1058.27 L480.79,1058.39 L481.22,1058.49 L481.65,1058.58 L482.08,1058.66 L482.51,1058.73 L482.94,1058.79 L483.38,1058.85 L483.81,1058.89 L484.24,1058.94 L484.67,1058.97 L485.10,1059.00 L485.53,1059.03 L485.96,1059.05 L486.39,1059.08 L486.82,1059.09 L487.25,1059.11 L487.68,1059.12 L488.12,1059.13 L488.55,1059.14 L488.98,1059.15 L489.41,1059.16 L489.84,1059.17 L490.27,1059.17 L490.70,1059.18 L491.13,1059.18 L491.56,1059.18 L491.99,1059.19 L492.42,1059.19 L492.86,1059.19 L493.29,1059.19 L493.72,1059.19 L494.15,1059.19 L494.58,1059.20 L495.01,1059.20 L495.44,1059.20 L495.87,1059.20 L496.30,1059.20 L496.73,1059.20 L497.16,1059.20 L497.60,1059.20 L498.03,1059.20 L498.46,1059.20 L498.89,1059.20 L499.32,1059.20 L499.75,1059.20 L500.18,1059.20 L500.61,1059.20 L501.04,1059.20 L501.47,1059.20 L501.90,1059.20 L502.34,1059.20 L502.77,1059.20 L503.20,1059.20 L503.63,1059.20 L504.06,1059.20 L504.49,1059.20 L504.92,1059.20 L505.35,1059.20 L505.78,1059.20 L506.21,1059.20 L506.64,1059.20 L507.08,1059.20 L507.51,1059.20 L507.94,1059.20 L508.37,1059.20 L508.80,1059.20 L509.23,1059.20 L509.66,1059.20 L510.09,1059.20 L510.52,1059.20 L510.95,1059.20 L511.38,1059.20 L511.82,1059.20 L512.25,1059.20 L512.68,1059.20 L513.11,1059.20 L513.54,1059.20 L513.97,1059.20 L514.40,1059.20 L514.83,1059.20 L515.26,1059.20 L515.69,1059.20 L516.12,1059.20" fill="none" stroke="#ff8c00" stroke-width="2.0" stroke-linejoin="round"/>
<g transform="translate(508.57 1105.40)"><text x="0.00" y="0.00" font-size="14.6" font-style="italic">H</text><text x="10.54" y="3.94" font-size="10.51">2</text><text x="16.39" y="0.00" font-size="14.6"> (nm)</text></g>
<text font-size="14.6" text-anchor="middle" transform="translate(355.6 993.5) rotate(-90)">Number of frames</text>
<g transform="translate(488.50 949.80)"><text x="0.00" y="0.00" font-size="10.6">Atg13</text></g>
<g transform="translate(488.50 962.45)"><text x="0.00" y="0.00" font-size="10.6">Tail-end</text></g>
<g transform="translate(488.50 975.10)"><text x="0.00" y="0.00" font-size="10.6">100 mM NaCl</text></g>
<g transform="translate(488.50 987.75)"><text x="0.00" y="0.00" font-size="10.6">pH 7.0</text></g>
<g transform="translate(488.50 1000.40)"><text x="0.00" y="0.00" font-size="10.6" font-style="italic">N</text><text x="7.66" y="0.00" font-size="10.6"> = 3,345</text></g>
<g transform="translate(488.50 1013.05)"><text x="0.00" y="0.00" font-size="10.6">Mol = 3</text></g>
<g transform="translate(488.50 1025.70)"><path d="M2.70,-7.84 L0.64,-3.02 L2.70,1.80" fill="none" stroke="#111" stroke-width="0.69"/><text x="3.18" y="0.00" font-size="10.6" font-style="italic">H</text><text x="10.84" y="2.86" font-size="7.63">2</text><path d="M15.56,-7.84 L17.62,-3.02 L15.56,1.80" fill="none" stroke="#111" stroke-width="0.69"/><text x="18.26" y="0.00" font-size="10.6"> = 0.5 nm</text></g>
<g transform="translate(488.50 1038.35)"><text x="0.00" y="0.00" font-size="10.6">s.e.m. = 0.004 nm</text></g>
<rect x="359.0" y="1121.5" width="3.3" height="12.2" fill="#111"/>
<rect x="439.10" y="1268.51" width="7.90" height="3.29" fill="#99d5ee" stroke="#5a7a88" stroke-width="0.8" />
<rect x="447.00" y="1262.60" width="7.90" height="9.20" fill="#99d5ee" stroke="#5a7a88" stroke-width="0.8" />
<rect x="454.90" y="1251.09" width="7.90" height="20.71" fill="#99d5ee" stroke="#5a7a88" stroke-width="0.8" />
<rect x="462.80" y="1242.54" width="7.90" height="29.26" fill="#99d5ee" stroke="#5a7a88" stroke-width="0.8" />
<rect x="470.70" y="1201.45" width="7.90" height="70.35" fill="#99d5ee" stroke="#5a7a88" stroke-width="0.8" />
<rect x="478.60" y="1180.41" width="7.90" height="91.39" fill="#99d5ee" stroke="#5a7a88" stroke-width="0.8" />
<rect x="486.50" y="1176.13" width="7.90" height="95.67" fill="#99d5ee" stroke="#5a7a88" stroke-width="0.8" />
<rect x="494.40" y="1148.19" width="7.90" height="123.61" fill="#99d5ee" stroke="#5a7a88" stroke-width="0.8" />
<rect x="502.30" y="1142.27" width="7.90" height="129.53" fill="#99d5ee" stroke="#5a7a88" stroke-width="0.8" />
<rect x="510.20" y="1165.28" width="7.90" height="106.52" fill="#99d5ee" stroke="#5a7a88" stroke-width="0.8" />
<rect x="518.10" y="1174.16" width="7.90" height="97.64" fill="#99d5ee" stroke="#5a7a88" stroke-width="0.8" />
<rect x="526.00" y="1186.33" width="7.90" height="85.47" fill="#99d5ee" stroke="#5a7a88" stroke-width="0.8" />
<rect x="533.90" y="1209.67" width="7.90" height="62.13" fill="#99d5ee" stroke="#5a7a88" stroke-width="0.8" />
<rect x="541.80" y="1220.19" width="7.90" height="51.61" fill="#99d5ee" stroke="#5a7a88" stroke-width="0.8" />
<rect x="549.70" y="1235.31" width="7.90" height="36.49" fill="#99d5ee" stroke="#5a7a88" stroke-width="0.8" />
<rect x="557.60" y="1241.23" width="7.90" height="30.57" fill="#99d5ee" stroke="#5a7a88" stroke-width="0.8" />
<rect x="565.50" y="1256.68" width="7.90" height="15.12" fill="#99d5ee" stroke="#5a7a88" stroke-width="0.8" />
<rect x="573.40" y="1256.68" width="7.90" height="15.12" fill="#99d5ee" stroke="#5a7a88" stroke-width="0.8" />
<rect x="581.30" y="1262.27" width="7.90" height="9.53" fill="#99d5ee" stroke="#5a7a88" stroke-width="0.8" />
<rect x="589.20" y="1266.21" width="7.90" height="5.59" fill="#99d5ee" stroke="#5a7a88" stroke-width="0.8" />
<rect x="597.10" y="1268.18" width="7.90" height="3.62" fill="#99d5ee" stroke="#5a7a88" stroke-width="0.8" />
<rect x="605.00" y="1269.83" width="7.90" height="1.97" fill="#99d5ee" stroke="#5a7a88" stroke-width="0.8" />
<rect x="612.90" y="1269.17" width="7.90" height="2.63" fill="#99d5ee" stroke="#5a7a88" stroke-width="0.8" />
<rect x="620.80" y="1269.83" width="7.90" height="1.97" fill="#99d5ee" stroke="#5a7a88" stroke-width="0.8" />
<rect x="628.70" y="1271.14" width="7.90" height="0.66" fill="#99d5ee" stroke="#5a7a88" stroke-width="0.8" />
<line x1="415.40" y1="1140.30" x2="415.40" y2="1271.80" stroke="#444" stroke-width="1.0" />
<line x1="415.40" y1="1271.80" x2="652.40" y2="1271.80" stroke="#444" stroke-width="1.0" />
<line x1="411.80" y1="1271.80" x2="415.40" y2="1271.80" stroke="#444" stroke-width="1.0" />
<text x="403.2" y="1277.4" font-size="14.6" text-anchor="end" >0</text>
<line x1="411.80" y1="1206.05" x2="415.40" y2="1206.05" stroke="#444" stroke-width="1.0" />
<text x="403.2" y="1211.6" font-size="14.6" text-anchor="end" >200</text>
<line x1="411.80" y1="1140.30" x2="415.40" y2="1140.30" stroke="#444" stroke-width="1.0" />
<text x="403.2" y="1145.9" font-size="14.6" text-anchor="end" >400</text>
<line x1="415.40" y1="1271.80" x2="415.40" y2="1275.00" stroke="#444" stroke-width="1.0" />
<text x="415.4" y="1295.1" font-size="14.6" text-anchor="middle" >0</text>
<line x1="474.65" y1="1271.80" x2="474.65" y2="1275.00" stroke="#444" stroke-width="1.0" />
<text x="474.6" y="1295.1" font-size="14.6" text-anchor="middle" >15</text>
<line x1="533.90" y1="1271.80" x2="533.90" y2="1275.00" stroke="#444" stroke-width="1.0" />
<text x="533.9" y="1295.1" font-size="14.6" text-anchor="middle" >30</text>
<line x1="593.15" y1="1271.80" x2="593.15" y2="1275.00" stroke="#444" stroke-width="1.0" />
<text x="593.1" y="1295.1" font-size="14.6" text-anchor="middle" >45</text>
<line x1="652.40" y1="1271.80" x2="652.40" y2="1275.00" stroke="#444" stroke-width="1.0" />
<text x="652.4" y="1295.1" font-size="14.6" text-anchor="middle" >60</text>
<path d="M423.30,1271.66 L424.31,1271.64 L425.31,1271.60 L426.32,1271.57 L427.32,1271.53 L428.33,1271.48 L429.33,1271.42 L430.34,1271.36 L431.34,1271.29 L432.35,1271.20 L433.35,1271.10 L434.36,1270.99 L435.37,1270.86 L436.37,1270.72 L437.38,1270.55 L438.38,1270.37 L439.39,1270.15 L440.39,1269.92 L441.40,1269.65 L442.40,1269.35 L443.41,1269.02 L444.41,1268.65 L445.42,1268.23 L446.43,1267.78 L447.43,1267.27 L448.44,1266.71 L449.44,1266.10 L450.45,1265.43 L451.45,1264.70 L452.46,1263.90 L453.46,1263.03 L454.47,1262.08 L455.47,1261.06 L456.48,1259.97 L457.49,1258.78 L458.49,1257.52 L459.50,1256.17 L460.50,1254.73 L461.51,1253.20 L462.51,1251.58 L463.52,1249.88 L464.52,1248.08 L465.53,1246.20 L466.53,1244.23 L467.54,1242.18 L468.55,1240.05 L469.55,1237.85 L470.56,1235.58 L471.56,1233.24 L472.57,1230.86 L473.57,1228.42 L474.58,1225.95 L475.58,1223.45 L476.59,1220.94 L477.59,1218.41 L478.60,1215.90 L479.61,1213.40 L480.61,1210.93 L481.62,1208.50 L482.62,1206.13 L483.63,1203.83 L484.63,1201.62 L485.64,1199.50 L486.64,1197.49 L487.65,1195.60 L488.65,1193.85 L489.66,1192.24 L490.67,1190.79 L491.67,1189.50 L492.68,1188.39 L493.68,1187.46 L494.69,1186.72 L495.69,1186.17 L496.70,1185.82 L497.70,1185.67 L498.71,1185.72 L499.71,1185.97 L500.72,1186.42 L501.73,1187.07 L502.73,1187.90 L503.74,1188.93 L504.74,1190.13 L505.75,1191.50 L506.75,1193.03 L507.76,1194.71 L508.76,1196.53 L509.77,1198.48 L510.77,1200.55 L511.78,1202.71 L512.79,1204.97 L513.79,1207.31 L514.80,1209.71 L515.80,1212.16 L516.81,1214.64 L517.81,1217.15 L518.82,1219.68 L519.82,1222.20 L520.83,1224.71 L521.83,1227.19 L522.84,1229.65 L523.85,1232.06 L524.85,1234.42 L525.86,1236.72 L526.86,1238.96 L527.87,1241.12 L528.87,1243.21 L529.88,1245.22 L530.88,1247.15 L531.89,1248.99 L532.89,1250.74 L533.90,1252.40 L534.91,1253.98 L535.91,1255.46 L536.92,1256.86 L537.92,1258.16 L538.93,1259.39 L539.93,1260.52 L540.94,1261.58 L541.94,1262.56 L542.95,1263.47 L543.95,1264.30 L544.96,1265.07 L545.97,1265.77 L546.97,1266.41 L547.98,1267.00 L548.98,1267.53 L549.99,1268.01 L550.99,1268.45 L552.00,1268.84 L553.00,1269.19 L554.01,1269.51 L555.01,1269.79 L556.02,1270.04 L557.03,1270.26 L558.03,1270.46 L559.04,1270.64 L560.04,1270.79 L561.05,1270.93 L562.05,1271.05 L563.06,1271.15 L564.06,1271.24 L565.07,1271.32 L566.07,1271.39 L567.08,1271.45 L568.09,1271.50 L569.09,1271.55 L570.10,1271.59 L571.10,1271.62 L572.11,1271.65 L573.11,1271.67 L574.12,1271.69 L575.12,1271.71 L576.13,1271.73 L577.13,1271.74 L578.14,1271.75 L579.15,1271.76 L580.15,1271.76 L581.16,1271.77 L582.16,1271.78 L583.17,1271.78 L584.17,1271.78 L585.18,1271.79 L586.18,1271.79 L587.19,1271.79 L588.19,1271.79 L589.20,1271.79 L590.21,1271.80 L591.21,1271.80 L592.22,1271.80 L593.22,1271.80 L594.23,1271.80 L595.23,1271.80 L596.24,1271.80 L597.24,1271.80 L598.25,1271.80 L599.25,1271.80 L600.26,1271.80 L601.27,1271.80 L602.27,1271.80 L603.28,1271.80 L604.28,1271.80 L605.29,1271.80 L606.29,1271.80 L607.30,1271.80 L608.30,1271.80 L609.31,1271.80 L610.31,1271.80 L611.32,1271.80 L612.33,1271.80 L613.33,1271.80 L614.34,1271.80 L615.34,1271.80 L616.35,1271.80 L617.35,1271.80 L618.36,1271.80 L619.36,1271.80 L620.37,1271.80 L621.37,1271.80 L622.38,1271.80 L623.39,1271.80 L624.39,1271.80 L625.40,1271.80 L626.40,1271.80 L627.41,1271.80 L628.41,1271.80 L629.42,1271.80 L630.42,1271.80 L631.43,1271.80 L632.43,1271.80 L633.44,1271.80 L634.45,1271.80 L635.45,1271.80 L636.46,1271.80 L637.46,1271.80 L638.47,1271.80 L639.47,1271.80 L640.48,1271.80 L641.48,1271.80 L642.49,1271.80 L643.49,1271.80 L644.50,1271.80" fill="none" stroke="#000" stroke-width="1.5" stroke-linejoin="round"/>
<path d="M423.30,1271.68 L424.31,1271.67 L425.31,1271.65 L426.32,1271.63 L427.32,1271.61 L428.33,1271.59 L429.33,1271.56 L430.34,1271.54 L431.34,1271.51 L432.35,1271.47 L433.35,1271.43 L434.36,1271.39 L435.37,1271.35 L436.37,1271.30 L437.38,1271.24 L438.38,1271.18 L439.39,1271.12 L440.39,1271.04 L441.40,1270.97 L442.40,1270.88 L443.41,1270.79 L444.41,1270.69 L445.42,1270.58 L446.43,1270.46 L447.43,1270.33 L448.44,1270.19 L449.44,1270.03 L450.45,1269.87 L451.45,1269.70 L452.46,1269.51 L453.46,1269.30 L454.47,1269.08 L455.47,1268.85 L456.48,1268.60 L457.49,1268.33 L458.49,1268.04 L459.50,1267.74 L460.50,1267.41 L461.51,1267.07 L462.51,1266.70 L463.52,1266.31 L464.52,1265.90 L465.53,1265.47 L466.53,1265.01 L467.54,1264.52 L468.55,1264.01 L469.55,1263.48 L470.56,1262.91 L471.56,1262.32 L472.57,1261.71 L473.57,1261.06 L474.58,1260.39 L475.58,1259.68 L476.59,1258.95 L477.59,1258.19 L478.60,1257.41 L479.61,1256.59 L480.61,1255.75 L481.62,1254.88 L482.62,1253.98 L483.63,1253.06 L484.63,1252.11 L485.64,1251.14 L486.64,1250.15 L487.65,1249.13 L488.65,1248.09 L489.66,1247.04 L490.67,1245.97 L491.67,1244.88 L492.68,1243.78 L493.68,1242.66 L494.69,1241.54 L495.69,1240.41 L496.70,1239.28 L497.70,1238.14 L498.71,1237.00 L499.71,1235.87 L500.72,1234.74 L501.73,1233.62 L502.73,1232.52 L503.74,1231.42 L504.74,1230.35 L505.75,1229.29 L506.75,1228.26 L507.76,1227.26 L508.76,1226.28 L509.77,1225.33 L510.77,1224.43 L511.78,1223.55 L512.79,1222.72 L513.79,1221.94 L514.80,1221.19 L515.80,1220.50 L516.81,1219.86 L517.81,1219.27 L518.82,1218.73 L519.82,1218.25 L520.83,1217.83 L521.83,1217.46 L522.84,1217.16 L523.85,1216.92 L524.85,1216.74 L525.86,1216.63 L526.86,1216.57 L527.87,1216.58 L528.87,1216.66 L529.88,1216.80 L530.88,1217.00 L531.89,1217.26 L532.89,1217.59 L533.90,1217.97 L534.91,1218.41 L535.91,1218.91 L536.92,1219.47 L537.92,1220.08 L538.93,1220.74 L539.93,1221.45 L540.94,1222.21 L541.94,1223.02 L542.95,1223.86 L543.95,1224.75 L544.96,1225.67 L545.97,1226.62 L546.97,1227.61 L547.98,1228.63 L548.98,1229.67 L549.99,1230.73 L550.99,1231.81 L552.00,1232.91 L553.00,1234.02 L554.01,1235.14 L555.01,1236.27 L556.02,1237.41 L557.03,1238.54 L558.03,1239.68 L559.04,1240.81 L560.04,1241.94 L561.05,1243.06 L562.05,1244.17 L563.06,1245.27 L564.06,1246.35 L565.07,1247.42 L566.07,1248.47 L567.08,1249.50 L568.09,1250.51 L569.09,1251.49 L570.10,1252.45 L571.10,1253.39 L572.11,1254.31 L573.11,1255.19 L574.12,1256.05 L575.12,1256.89 L576.13,1257.69 L577.13,1258.47 L578.14,1259.22 L579.15,1259.94 L580.15,1260.63 L581.16,1261.29 L582.16,1261.93 L583.17,1262.54 L584.17,1263.12 L585.18,1263.67 L586.18,1264.20 L587.19,1264.70 L588.19,1265.17 L589.20,1265.63 L590.21,1266.05 L591.21,1266.46 L592.22,1266.84 L593.22,1267.20 L594.23,1267.53 L595.23,1267.85 L596.24,1268.15 L597.24,1268.43 L598.25,1268.69 L599.25,1268.94 L600.26,1269.16 L601.27,1269.38 L602.27,1269.58 L603.28,1269.76 L604.28,1269.93 L605.29,1270.09 L606.29,1270.24 L607.30,1270.37 L608.30,1270.50 L609.31,1270.62 L610.31,1270.72 L611.32,1270.82 L612.33,1270.91 L613.33,1270.99 L614.34,1271.07 L615.34,1271.14 L616.35,1271.20 L617.35,1271.26 L618.36,1271.32 L619.36,1271.36 L620.37,1271.41 L621.37,1271.45 L622.38,1271.48 L623.39,1271.52 L624.39,1271.55 L625.40,1271.57 L626.40,1271.60 L627.41,1271.62 L628.41,1271.64 L629.42,1271.66 L630.42,1271.67 L631.43,1271.69 L632.43,1271.70 L633.44,1271.71 L634.45,1271.72 L635.45,1271.73 L636.46,1271.74 L637.46,1271.75 L638.47,1271.75 L639.47,1271.76 L640.48,1271.76 L641.48,1271.77 L642.49,1271.77 L643.49,1271.78 L644.50,1271.78" fill="none" stroke="#000" stroke-width="1.5" stroke-linejoin="round"/>
<path d="M423.30,1271.54 L424.31,1271.50 L425.31,1271.46 L426.32,1271.40 L427.32,1271.34 L428.33,1271.27 L429.33,1271.19 L430.34,1271.10 L431.34,1270.99 L432.35,1270.87 L433.35,1270.74 L434.36,1270.58 L435.37,1270.41 L436.37,1270.21 L437.38,1269.99 L438.38,1269.75 L439.39,1269.47 L440.39,1269.16 L441.40,1268.82 L442.40,1268.43 L443.41,1268.01 L444.41,1267.53 L445.42,1267.01 L446.43,1266.43 L447.43,1265.80 L448.44,1265.10 L449.44,1264.34 L450.45,1263.50 L451.45,1262.59 L452.46,1261.60 L453.46,1260.53 L454.47,1259.37 L455.47,1258.11 L456.48,1256.76 L457.49,1255.32 L458.49,1253.77 L459.50,1252.11 L460.50,1250.35 L461.51,1248.47 L462.51,1246.49 L463.52,1244.39 L464.52,1242.18 L465.53,1239.86 L466.53,1237.44 L467.54,1234.90 L468.55,1232.26 L469.55,1229.52 L470.56,1226.69 L471.56,1223.77 L472.57,1220.76 L473.57,1217.68 L474.58,1214.54 L475.58,1211.34 L476.59,1208.09 L477.59,1204.81 L478.60,1201.50 L479.61,1198.19 L480.61,1194.88 L481.62,1191.58 L482.62,1188.32 L483.63,1185.09 L484.63,1181.93 L485.64,1178.84 L486.64,1175.84 L487.65,1172.93 L488.65,1170.14 L489.66,1167.48 L490.67,1164.96 L491.67,1162.58 L492.68,1160.37 L493.68,1158.33 L494.69,1156.46 L495.69,1154.78 L496.70,1153.30 L497.70,1152.01 L498.71,1150.93 L499.71,1150.04 L500.72,1149.37 L501.73,1148.89 L502.73,1148.62 L503.74,1148.55 L504.74,1148.67 L505.75,1148.99 L506.75,1149.49 L507.76,1150.16 L508.76,1151.01 L509.77,1152.01 L510.77,1153.17 L511.78,1154.47 L512.79,1155.90 L513.79,1157.45 L514.80,1159.10 L515.80,1160.86 L516.81,1162.70 L517.81,1164.62 L518.82,1166.60 L519.82,1168.65 L520.83,1170.73 L521.83,1172.86 L522.84,1175.01 L523.85,1177.18 L524.85,1179.36 L525.86,1181.55 L526.86,1183.73 L527.87,1185.91 L528.87,1188.07 L529.88,1190.22 L530.88,1192.35 L531.89,1194.45 L532.89,1196.53 L533.90,1198.58 L534.91,1200.59 L535.91,1202.58 L536.92,1204.53 L537.92,1206.44 L538.93,1208.33 L539.93,1210.18 L540.94,1212.00 L541.94,1213.78 L542.95,1215.53 L543.95,1217.25 L544.96,1218.94 L545.97,1220.60 L546.97,1222.23 L547.98,1223.83 L548.98,1225.40 L549.99,1226.94 L550.99,1228.46 L552.00,1229.95 L553.00,1231.41 L554.01,1232.85 L555.01,1234.26 L556.02,1235.65 L557.03,1237.01 L558.03,1238.34 L559.04,1239.65 L560.04,1240.93 L561.05,1242.19 L562.05,1243.42 L563.06,1244.62 L564.06,1245.79 L565.07,1246.94 L566.07,1248.06 L567.08,1249.15 L568.09,1250.21 L569.09,1251.24 L570.10,1252.24 L571.10,1253.21 L572.11,1254.16 L573.11,1255.07 L574.12,1255.95 L575.12,1256.80 L576.13,1257.62 L577.13,1258.41 L578.14,1259.17 L579.15,1259.89 L580.15,1260.59 L581.16,1261.26 L582.16,1261.91 L583.17,1262.52 L584.17,1263.10 L585.18,1263.66 L586.18,1264.19 L587.19,1264.69 L588.19,1265.17 L589.20,1265.62 L590.21,1266.05 L591.21,1266.45 L592.22,1266.83 L593.22,1267.19 L594.23,1267.53 L595.23,1267.85 L596.24,1268.15 L597.24,1268.43 L598.25,1268.69 L599.25,1268.93 L600.26,1269.16 L601.27,1269.38 L602.27,1269.58 L603.28,1269.76 L604.28,1269.93 L605.29,1270.09 L606.29,1270.24 L607.30,1270.37 L608.30,1270.50 L609.31,1270.62 L610.31,1270.72 L611.32,1270.82 L612.33,1270.91 L613.33,1270.99 L614.34,1271.07 L615.34,1271.14 L616.35,1271.20 L617.35,1271.26 L618.36,1271.32 L619.36,1271.36 L620.37,1271.41 L621.37,1271.45 L622.38,1271.48 L623.39,1271.52 L624.39,1271.55 L625.40,1271.57 L626.40,1271.60 L627.41,1271.62 L628.41,1271.64 L629.42,1271.66 L630.42,1271.67 L631.43,1271.69 L632.43,1271.70 L633.44,1271.71 L634.45,1271.72 L635.45,1271.73 L636.46,1271.74 L637.46,1271.75 L638.47,1271.75 L639.47,1271.76 L640.48,1271.76 L641.48,1271.77 L642.49,1271.77 L643.49,1271.78 L644.50,1271.78" fill="none" stroke="#0a14ff" stroke-width="2.6" stroke-linejoin="round"/>
<g transform="translate(504.78 1318.50)"><text x="0.00" y="0.00" font-size="14.6" font-style="italic">R</text><text x="10.54" y="3.94" font-size="10.51">2D</text><text x="23.98" y="0.00" font-size="14.6"> (nm)</text></g>
<text font-size="14.6" text-anchor="middle" transform="translate(367.6 1205.8) rotate(-90)">Number of frames</text>
<g transform="translate(628.10 1140.60)"><text x="0.00" y="0.00" font-size="10.6">Atg13</text></g>
<g transform="translate(553.88 1153.25)"><text x="0.00" y="0.00" font-size="10.6">100 mM NaCl, pH 7.0</text></g>
<g transform="translate(568.59 1165.90)"><text x="0.00" y="0.00" font-size="10.6" font-style="italic">N</text><text x="7.66" y="0.00" font-size="10.6"> = 3,345, Mol = 3</text></g>
<g transform="translate(561.62 1178.55)"><text x="0.00" y="0.00" font-size="10.6">1st: </text><path d="M22.73,-7.84 L20.67,-3.02 L22.73,1.80" fill="none" stroke="#111" stroke-width="0.69"/><text x="23.21" y="0.00" font-size="10.6" font-style="italic">R</text><text x="30.87" y="2.86" font-size="7.63">2D</text><path d="M41.10,-7.84 L43.17,-3.02 L41.10,1.80" fill="none" stroke="#111" stroke-width="0.69"/><text x="43.80" y="0.00" font-size="10.6"> = 20.7 nm</text></g>
<g transform="translate(576.56 1191.20)"><text x="0.00" y="0.00" font-size="10.6">s.e.m. = 0.51 nm</text></g>
<g transform="translate(558.07 1203.85)"><text x="0.00" y="0.00" font-size="10.6">2nd: </text><path d="M26.28,-7.84 L24.21,-3.02 L26.28,1.80" fill="none" stroke="#111" stroke-width="0.69"/><text x="26.76" y="0.00" font-size="10.6" font-style="italic">R</text><text x="34.41" y="2.86" font-size="7.63">2D</text><path d="M44.64,-7.84 L46.71,-3.02 L44.64,1.80" fill="none" stroke="#111" stroke-width="0.69"/><text x="47.35" y="0.00" font-size="10.6"> = 28.1 nm</text></g>
<g transform="translate(576.56 1216.50)"><text x="0.00" y="0.00" font-size="10.6">s.e.m. = 4.62 nm</text></g>
<g transform="translate(583.18 1229.15)"><text x="0.00" y="0.00" font-size="10.6" font-style="italic">F</text><text x="6.48" y="0.00" font-size="10.6">-test: </text><text x="32.98" y="0.00" font-size="10.6" font-style="italic">P</text><text x="40.05" y="0.00" font-size="10.6"> &lt; 10</text><text x="63.92" y="-4.03" font-size="7.63">−3</text></g>
</svg>
</body></html>
